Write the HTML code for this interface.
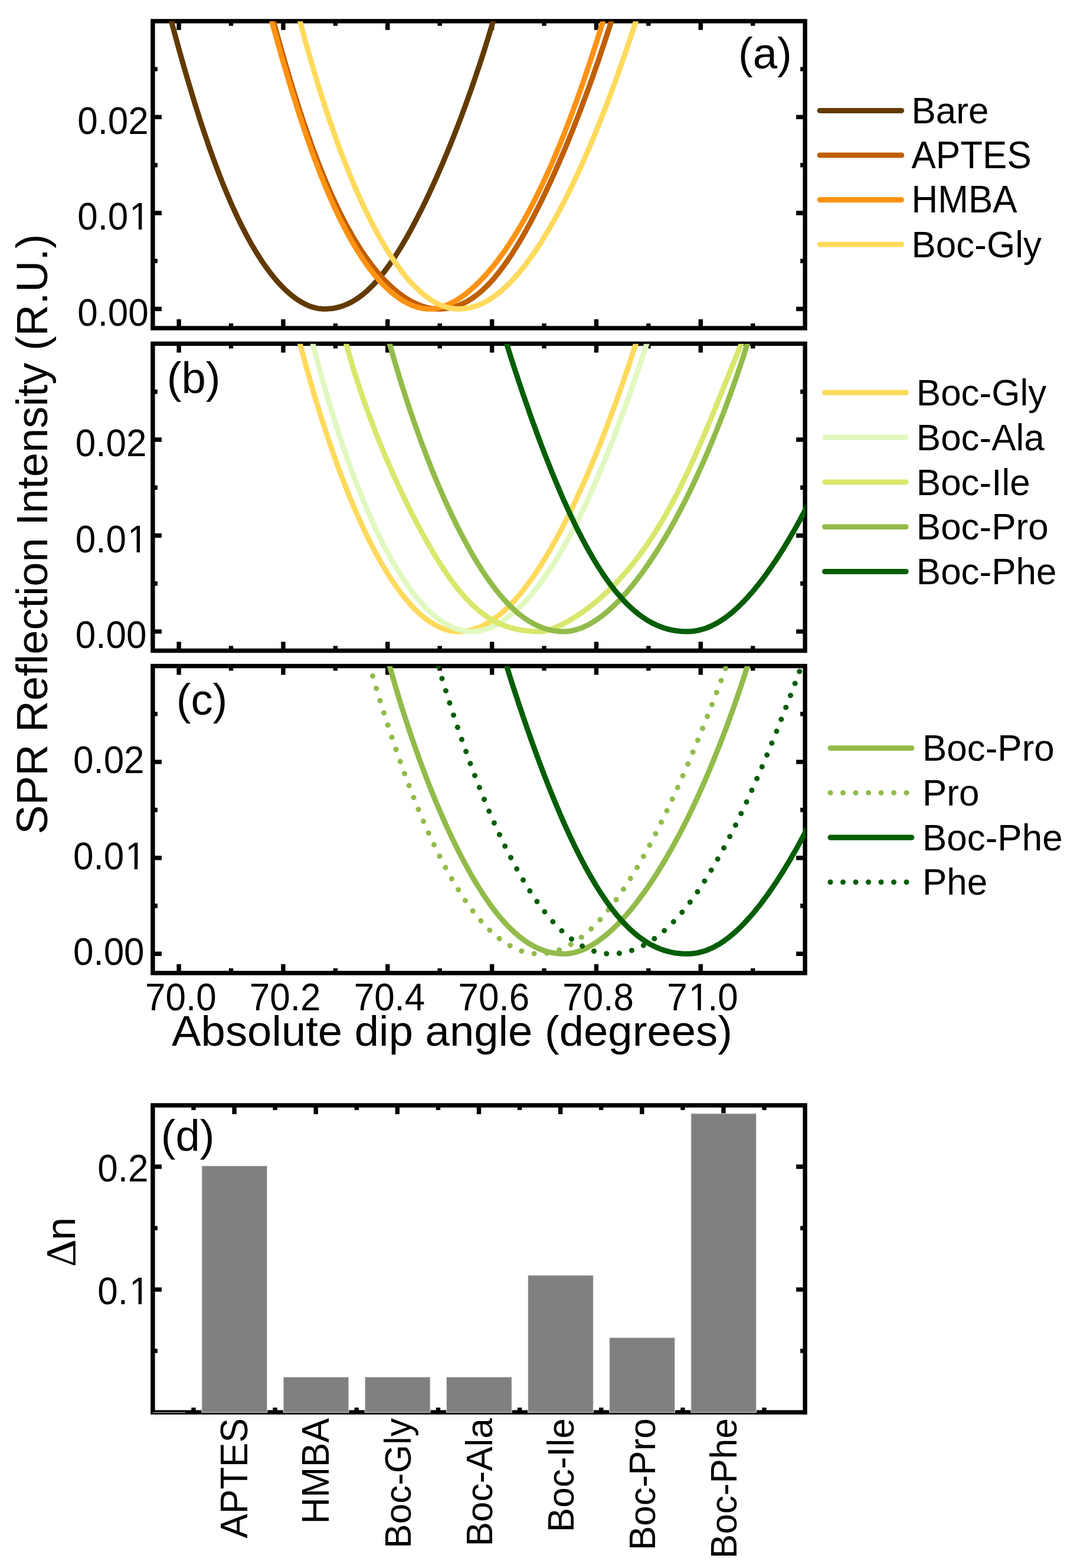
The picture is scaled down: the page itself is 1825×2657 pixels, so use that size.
<!DOCTYPE html>
<html lang="en"><head><meta charset="utf-8"><title>SPR reflection intensity and refractive index change</title>
<style>html,body{margin:0;padding:0;background:#fff}body{width:1825px;height:2657px;overflow:hidden}svg{display:block}text{font-family:'Liberation Sans', sans-serif;fill:#000}.t{font-size:62.0px}.l{font-size:74.3px}.f{fill:none;stroke:#000;stroke-width:7.4}.k{stroke:#000;stroke-width:7.4;fill:none}.c{fill:none;stroke-width:9.05;stroke-linejoin:round;stroke-linecap:butt}.d{fill:none;stroke-width:9.05;stroke-linecap:round;stroke-linejoin:round}.g{stroke-width:9.05;stroke-linecap:round;fill:none}</style></head><body>
<svg width="1825" height="2657" viewBox="0 0 1825 2657" role="img" aria-label="SPR reflection curves (a-c) and refractive index change bar chart (d)">
<rect width="1825" height="2657" fill="#fff"/>
<defs>
<clipPath id="cpa"><rect x="258.90" y="36.15" width="1105.95" height="519.90"/></clipPath>
<clipPath id="cpb"><rect x="258.90" y="582.70" width="1105.95" height="519.90"/></clipPath>
<clipPath id="cpc"><rect x="258.90" y="1128.90" width="1105.95" height="519.90"/></clipPath>
<clipPath id="cpd"><rect x="258.90" y="1873.00" width="1105.95" height="521.10"/></clipPath>
</defs>
<g id="panel-a">
<rect class="f" x="258.90" y="35.85" width="1105.25" height="520.20"/>
<path class="k" d="M303.11 35.85v15.0M303.11 556.05v-15.0M391.53 35.85v8.0M391.53 556.05v-8.0M479.95 35.85v15.0M479.95 556.05v-15.0M568.37 35.85v8.0M568.37 556.05v-8.0M656.79 35.85v15.0M656.79 556.05v-15.0M745.21 35.85v8.0M745.21 556.05v-8.0M833.63 35.85v15.0M833.63 556.05v-15.0M922.05 35.85v8.0M922.05 556.05v-8.0M1010.47 35.85v15.0M1010.47 556.05v-15.0M1098.89 35.85v8.0M1098.89 556.05v-8.0M1187.31 35.85v15.0M1187.31 556.05v-15.0M1275.73 35.85v8.0M1275.73 556.05v-8.0M258.90 523.54h15.0M1364.15 523.54h-15.0M258.90 442.26h8.0M1364.15 442.26h-8.0M258.90 360.98h15.0M1364.15 360.98h-15.0M258.90 279.69h8.0M1364.15 279.69h-8.0M258.90 198.41h15.0M1364.15 198.41h-15.0M258.90 117.13h8.0M1364.15 117.13h-8.0"/>
<text class="t" transform="translate(251.80 551.74) scale(1 1.05)" text-anchor="end">0.00</text>
<g transform="translate(253.80 389.18) scale(1 1.05)"><text class="t" text-anchor="end">0.0<tspan dx="2.0">1</tspan></text><rect x="-30.96" y="-5.83" width="12.07" height="7.23" fill="#fff"/><rect x="-13.41" y="-5.83" width="11.58" height="7.23" fill="#fff"/></g>
<text class="t" transform="translate(251.80 226.61) scale(1 1.05)" text-anchor="end">0.02</text>
<g clip-path="url(#cpa)">
<path class="c" stroke="#623a00" d="M275.4 -21.0 L277.6 -12.7 L279.7 -4.4 L281.9 3.9 L284.0 12.1 L286.2 20.2 L288.3 28.2 L290.4 36.2 L292.5 44.2 L294.7 52.0 L296.8 59.8 L298.9 67.5 L301.0 75.2 L303.1 82.8 L305.2 90.3 L307.3 97.8 L309.4 105.2 L311.5 112.5 L313.6 119.8 L315.7 127.0 L317.8 134.2 L319.9 141.3 L322.0 148.3 L324.1 155.2 L326.1 162.1 L328.2 168.9 L330.3 175.7 L332.4 182.4 L334.5 189.0 L336.6 195.5 L338.6 202.0 L340.7 208.5 L342.8 214.8 L344.9 221.1 L347.0 227.4 L349.1 233.5 L351.2 239.6 L353.3 245.7 L355.3 251.7 L357.4 257.6 L359.5 263.4 L361.6 269.2 L363.7 274.9 L365.8 280.6 L367.9 286.1 L370.0 291.7 L372.1 297.1 L374.2 302.5 L376.3 307.8 L378.4 313.1 L380.5 318.3 L382.7 323.4 L384.8 328.5 L386.9 333.5 L389.0 338.4 L391.1 343.3 L393.2 348.1 L395.4 352.9 L397.5 357.5 L399.6 362.1 L401.8 366.7 L403.9 371.2 L406.0 375.6 L408.2 379.9 L410.3 384.2 L412.5 388.4 L414.6 392.6 L416.7 396.7 L418.9 400.7 L421.0 404.7 L423.2 408.6 L425.3 412.4 L427.5 416.2 L429.7 419.9 L431.8 423.5 L434.0 427.1 L436.1 430.6 L438.3 434.0 L440.5 437.4 L442.6 440.7 L444.8 444.0 L447.0 447.2 L449.1 450.3 L451.3 453.3 L453.5 456.3 L455.6 459.2 L457.8 462.1 L460.0 464.9 L462.2 467.6 L464.3 470.3 L466.5 472.9 L468.7 475.4 L470.8 477.9 L473.0 480.3 L475.2 482.6 L477.3 484.9 L479.5 487.1 L481.7 489.2 L483.8 491.3 L486.0 493.3 L488.1 495.3 L490.3 497.2 L492.4 499.0 L494.6 500.7 L496.7 502.4 L498.9 504.0 L501.0 505.6 L503.1 507.1 L505.2 508.5 L507.4 509.9 L509.5 511.2 L511.6 512.4 L513.7 513.6 L515.8 514.7 L517.9 515.7 L520.0 516.7 L522.1 517.6 L524.2 518.5 L526.2 519.2 L528.3 520.0 L530.3 520.6 L532.4 521.2 L534.4 521.7 L536.5 522.2 L538.5 522.6 L540.5 522.9 L542.5 523.1 L544.5 523.3 L546.5 523.5 L548.4 523.5 L550.7 523.5 L553.3 523.5 L555.9 523.3 L558.4 523.1 L561.0 522.9 L563.5 522.6 L566.0 522.2 L568.4 521.7 L570.9 521.2 L573.3 520.6 L575.7 520.0 L578.1 519.2 L580.5 518.5 L582.8 517.6 L585.2 516.7 L587.5 515.7 L589.9 514.7 L592.2 513.6 L594.5 512.4 L596.8 511.2 L599.0 509.9 L601.3 508.5 L603.6 507.1 L605.8 505.6 L608.1 504.0 L610.3 502.4 L612.5 500.7 L614.8 499.0 L617.0 497.2 L619.2 495.3 L621.4 493.3 L623.6 491.3 L625.8 489.2 L628.0 487.1 L630.2 484.9 L632.4 482.6 L634.6 480.3 L636.8 477.9 L639.0 475.4 L641.2 472.9 L643.3 470.3 L645.5 467.6 L647.7 464.9 L649.9 462.1 L652.1 459.2 L654.3 456.3 L656.5 453.3 L658.7 450.3 L660.9 447.2 L663.1 444.0 L665.3 440.7 L667.6 437.4 L669.8 434.0 L672.0 430.6 L674.2 427.1 L676.4 423.5 L678.7 419.9 L680.9 416.2 L683.2 412.4 L685.4 408.6 L687.7 404.7 L689.9 400.7 L692.2 396.7 L694.5 392.6 L696.8 388.4 L699.0 384.2 L701.3 379.9 L703.6 375.6 L705.9 371.2 L708.2 366.7 L710.5 362.1 L712.9 357.5 L715.2 352.9 L717.5 348.1 L719.9 343.3 L722.2 338.4 L724.6 333.5 L726.9 328.5 L729.3 323.4 L731.6 318.3 L734.0 313.1 L736.4 307.8 L738.8 302.5 L741.2 297.1 L743.6 291.7 L746.0 286.1 L748.4 280.6 L750.8 274.9 L753.2 269.2 L755.6 263.4 L758.0 257.6 L760.5 251.7 L762.9 245.7 L765.3 239.6 L767.8 233.5 L770.2 227.4 L772.6 221.1 L775.1 214.8 L777.5 208.5 L780.0 202.0 L782.4 195.5 L784.8 189.0 L787.3 182.4 L789.7 175.7 L792.2 168.9 L794.6 162.1 L797.1 155.2 L799.5 148.3 L801.9 141.3 L804.4 134.2 L806.8 127.0 L809.2 119.8 L811.7 112.5 L814.1 105.2 L816.5 97.8 L818.9 90.3 L821.3 82.8 L823.7 75.2 L826.1 67.5 L828.5 59.8 L830.8 52.0 L833.2 44.2 L835.6 36.2 L837.9 28.2 L840.2 20.2 L842.5 12.1 L844.8 3.9 L847.1 -4.4 L849.4 -12.7 L851.7 -21.0"/>
<path class="c" stroke="#bf5f00" d="M448.3 -21.0 L450.5 -12.7 L452.6 -4.4 L454.8 3.9 L457.0 12.1 L459.2 20.2 L461.3 28.2 L463.5 36.2 L465.6 44.2 L467.8 52.0 L469.9 59.8 L472.1 67.5 L474.2 75.2 L476.4 82.8 L478.5 90.3 L480.7 97.8 L482.8 105.2 L484.9 112.5 L487.1 119.8 L489.2 127.0 L491.3 134.2 L493.5 141.3 L495.6 148.3 L497.8 155.2 L499.9 162.1 L502.0 168.9 L504.2 175.7 L506.3 182.4 L508.5 189.0 L510.6 195.5 L512.8 202.0 L514.9 208.5 L517.1 214.8 L519.3 221.1 L521.4 227.4 L523.6 233.5 L525.8 239.6 L527.9 245.7 L530.1 251.7 L532.3 257.6 L534.5 263.4 L536.7 269.2 L538.9 274.9 L541.1 280.6 L543.3 286.1 L545.5 291.7 L547.7 297.1 L549.9 302.5 L552.1 307.8 L554.4 313.1 L556.6 318.3 L558.8 323.4 L561.1 328.5 L563.3 333.5 L565.6 338.4 L567.9 343.3 L570.1 348.1 L572.4 352.9 L574.7 357.5 L576.9 362.1 L579.2 366.7 L581.5 371.2 L583.8 375.6 L586.1 379.9 L588.4 384.2 L590.7 388.4 L593.1 392.6 L595.4 396.7 L597.7 400.7 L600.0 404.7 L602.4 408.6 L604.7 412.4 L607.1 416.2 L609.4 419.9 L611.8 423.5 L614.1 427.1 L616.5 430.6 L618.8 434.0 L621.2 437.4 L623.6 440.7 L626.0 444.0 L628.4 447.2 L630.7 450.3 L633.1 453.3 L635.5 456.3 L637.9 459.2 L640.3 462.1 L642.7 464.9 L645.1 467.6 L647.5 470.3 L649.9 472.9 L652.3 475.4 L654.7 477.9 L657.1 480.3 L659.5 482.6 L662.0 484.9 L664.4 487.1 L666.8 489.2 L669.2 491.3 L671.6 493.3 L674.0 495.3 L676.4 497.2 L678.8 499.0 L681.2 500.7 L683.6 502.4 L686.0 504.0 L688.4 505.6 L690.8 507.1 L693.2 508.5 L695.6 509.9 L698.0 511.2 L700.4 512.4 L702.7 513.6 L705.1 514.7 L707.5 515.7 L709.8 516.7 L712.2 517.6 L714.5 518.5 L716.9 519.2 L719.2 520.0 L721.5 520.6 L723.8 521.2 L726.1 521.7 L728.4 522.2 L730.7 522.6 L733.0 522.9 L735.2 523.1 L737.5 523.3 L739.7 523.5 L742.0 523.5 L744.4 523.5 L747.0 523.5 L749.6 523.3 L752.1 523.1 L754.6 522.9 L757.2 522.6 L759.7 522.2 L762.1 521.7 L764.6 521.2 L767.0 520.6 L769.5 520.0 L771.9 519.2 L774.3 518.5 L776.7 517.6 L779.1 516.7 L781.4 515.7 L783.8 514.7 L786.1 513.6 L788.4 512.4 L790.8 511.2 L793.1 509.9 L795.4 508.5 L797.7 507.1 L800.0 505.6 L802.2 504.0 L804.5 502.4 L806.8 500.7 L809.0 499.0 L811.3 497.2 L813.5 495.3 L815.8 493.3 L818.0 491.3 L820.3 489.2 L822.5 487.1 L824.8 484.9 L827.0 482.6 L829.2 480.3 L831.5 477.9 L833.7 475.4 L835.9 472.9 L838.1 470.3 L840.4 467.6 L842.6 464.9 L844.8 462.1 L847.1 459.2 L849.3 456.3 L851.6 453.3 L853.8 450.3 L856.0 447.2 L858.3 444.0 L860.5 440.7 L862.8 437.4 L865.1 434.0 L867.3 430.6 L869.6 427.1 L871.8 423.5 L874.1 419.9 L876.4 416.2 L878.7 412.4 L881.0 408.6 L883.3 404.7 L885.6 400.7 L887.9 396.7 L890.2 392.6 L892.5 388.4 L894.8 384.2 L897.2 379.9 L899.5 375.6 L901.8 371.2 L904.2 366.7 L906.5 362.1 L908.9 357.5 L911.3 352.9 L913.6 348.1 L916.0 343.3 L918.4 338.4 L920.8 333.5 L923.2 328.5 L925.6 323.4 L928.0 318.3 L930.4 313.1 L932.9 307.8 L935.3 302.5 L937.7 297.1 L940.2 291.7 L942.6 286.1 L945.1 280.6 L947.6 274.9 L950.0 269.2 L952.5 263.4 L955.0 257.6 L957.5 251.7 L960.0 245.7 L962.5 239.6 L965.0 233.5 L967.5 227.4 L970.0 221.1 L972.5 214.8 L975.0 208.5 L977.5 202.0 L980.0 195.5 L982.6 189.0 L985.1 182.4 L987.6 175.7 L990.2 168.9 L992.7 162.1 L995.2 155.2 L997.8 148.3 L1000.3 141.3 L1002.9 134.2 L1005.4 127.0 L1007.9 119.8 L1010.5 112.5 L1013.0 105.2 L1015.6 97.8 L1018.1 90.3 L1020.6 82.8 L1023.2 75.2 L1025.7 67.5 L1028.2 59.8 L1030.7 52.0 L1033.3 44.2 L1035.8 36.2 L1038.3 28.2 L1040.8 20.2 L1043.3 12.1 L1045.8 3.9 L1048.3 -4.4 L1050.7 -12.7 L1053.2 -21.0"/>
<path class="c" stroke="#ff9212" d="M445.1 -21.0 L447.3 -12.7 L449.6 -4.4 L451.8 3.9 L454.0 12.1 L456.2 20.2 L458.4 28.2 L460.6 36.2 L462.7 44.2 L464.9 52.0 L467.1 59.8 L469.3 67.5 L471.4 75.2 L473.6 82.8 L475.7 90.3 L477.9 97.8 L480.0 105.2 L482.1 112.5 L484.3 119.8 L486.4 127.0 L488.5 134.2 L490.7 141.3 L492.8 148.3 L494.9 155.2 L497.0 162.1 L499.2 168.9 L501.3 175.7 L503.4 182.4 L505.5 189.0 L507.7 195.5 L509.8 202.0 L511.9 208.5 L514.0 214.8 L516.1 221.1 L518.3 227.4 L520.4 233.5 L522.5 239.6 L524.6 245.7 L526.7 251.7 L528.9 257.6 L531.0 263.4 L533.1 269.2 L535.3 274.9 L537.4 280.6 L539.5 286.1 L541.7 291.7 L543.8 297.1 L546.0 302.5 L548.1 307.8 L550.2 313.1 L552.4 318.3 L554.6 323.4 L556.7 328.5 L558.9 333.5 L561.0 338.4 L563.2 343.3 L565.4 348.1 L567.5 352.9 L569.7 357.5 L571.9 362.1 L574.1 366.7 L576.2 371.2 L578.4 375.6 L580.6 379.9 L582.8 384.2 L585.0 388.4 L587.2 392.6 L589.4 396.7 L591.6 400.7 L593.8 404.7 L596.0 408.6 L598.2 412.4 L600.5 416.2 L602.7 419.9 L604.9 423.5 L607.1 427.1 L609.4 430.6 L611.6 434.0 L613.8 437.4 L616.0 440.7 L618.3 444.0 L620.5 447.2 L622.8 450.3 L625.0 453.3 L627.2 456.3 L629.5 459.2 L631.7 462.1 L634.0 464.9 L636.2 467.6 L638.5 470.3 L640.7 472.9 L643.0 475.4 L645.2 477.9 L647.5 480.3 L649.7 482.6 L652.0 484.9 L654.2 487.1 L656.5 489.2 L658.7 491.3 L661.0 493.3 L663.2 495.3 L665.5 497.2 L667.7 499.0 L670.0 500.7 L672.2 502.4 L674.4 504.0 L676.7 505.6 L678.9 507.1 L681.1 508.5 L683.3 509.9 L685.6 511.2 L687.8 512.4 L690.0 513.6 L692.2 514.7 L694.4 515.7 L696.6 516.7 L698.8 517.6 L700.9 518.5 L703.1 519.2 L705.3 520.0 L707.4 520.6 L709.6 521.2 L711.7 521.7 L713.9 522.2 L716.0 522.6 L718.1 522.9 L720.2 523.1 L722.3 523.3 L724.4 523.5 L726.5 523.5 L728.5 523.5 L730.5 523.5 L732.5 523.3 L734.5 523.1 L736.5 522.9 L738.6 522.6 L740.7 522.2 L742.7 521.7 L744.9 521.2 L747.0 520.6 L749.1 520.0 L751.3 519.2 L753.5 518.5 L755.6 517.6 L757.9 516.7 L760.1 515.7 L762.3 514.7 L764.5 513.6 L766.8 512.4 L769.1 511.2 L771.4 509.9 L773.7 508.5 L776.0 507.1 L778.3 505.6 L780.6 504.0 L782.9 502.4 L785.3 500.7 L787.7 499.0 L790.0 497.2 L792.4 495.3 L794.8 493.3 L797.2 491.3 L799.6 489.2 L802.0 487.1 L804.4 484.9 L806.8 482.6 L809.2 480.3 L811.7 477.9 L814.1 475.4 L816.6 472.9 L819.0 470.3 L821.5 467.6 L823.9 464.9 L826.4 462.1 L828.8 459.2 L831.3 456.3 L833.8 453.3 L836.3 450.3 L838.7 447.2 L841.2 444.0 L843.7 440.7 L846.2 437.4 L848.7 434.0 L851.2 430.6 L853.7 427.1 L856.2 423.5 L858.7 419.9 L861.2 416.2 L863.7 412.4 L866.2 408.6 L868.7 404.7 L871.2 400.7 L873.7 396.7 L876.2 392.6 L878.7 388.4 L881.2 384.2 L883.7 379.9 L886.2 375.6 L888.7 371.2 L891.2 366.7 L893.7 362.1 L896.2 357.5 L898.7 352.9 L901.2 348.1 L903.7 343.3 L906.2 338.4 L908.6 333.5 L911.1 328.5 L913.6 323.4 L916.1 318.3 L918.6 313.1 L921.1 307.8 L923.6 302.5 L926.0 297.1 L928.5 291.7 L931.0 286.1 L933.5 280.6 L935.9 274.9 L938.4 269.2 L940.9 263.4 L943.3 257.6 L945.8 251.7 L948.3 245.7 L950.7 239.6 L953.2 233.5 L955.7 227.4 L958.1 221.1 L960.6 214.8 L963.0 208.5 L965.5 202.0 L967.9 195.5 L970.4 189.0 L972.8 182.4 L975.3 175.7 L977.7 168.9 L980.2 162.1 L982.6 155.2 L985.0 148.3 L987.5 141.3 L989.9 134.2 L992.4 127.0 L994.8 119.8 L997.2 112.5 L999.7 105.2 L1002.1 97.8 L1004.6 90.3 L1007.0 82.8 L1009.5 75.2 L1011.9 67.5 L1014.3 59.8 L1016.8 52.0 L1019.2 44.2 L1021.7 36.2 L1024.1 28.2 L1026.6 20.2 L1029.0 12.1 L1031.5 3.9 L1033.9 -4.4 L1036.4 -12.7 L1038.9 -21.0"/>
<path class="c" stroke="#ffda5c" d="M494.1 -21.0 L496.1 -12.7 L498.2 -4.4 L500.2 3.9 L502.3 12.1 L504.4 20.2 L506.4 28.2 L508.5 36.2 L510.6 44.2 L512.7 52.0 L514.8 59.8 L516.9 67.5 L519.0 75.2 L521.2 82.8 L523.3 90.3 L525.4 97.8 L527.6 105.2 L529.7 112.5 L531.8 119.8 L534.0 127.0 L536.1 134.2 L538.3 141.3 L540.5 148.3 L542.6 155.2 L544.8 162.1 L547.0 168.9 L549.1 175.7 L551.3 182.4 L553.5 189.0 L555.7 195.5 L557.9 202.0 L560.1 208.5 L562.3 214.8 L564.5 221.1 L566.7 227.4 L568.9 233.5 L571.1 239.6 L573.3 245.7 L575.5 251.7 L577.7 257.6 L579.9 263.4 L582.1 269.2 L584.4 274.9 L586.6 280.6 L588.8 286.1 L591.0 291.7 L593.2 297.1 L595.5 302.5 L597.7 307.8 L599.9 313.1 L602.2 318.3 L604.4 323.4 L606.6 328.5 L608.8 333.5 L611.1 338.4 L613.3 343.3 L615.5 348.1 L617.8 352.9 L620.0 357.5 L622.2 362.1 L624.5 366.7 L626.7 371.2 L629.0 375.6 L631.2 379.9 L633.4 384.2 L635.7 388.4 L637.9 392.6 L640.1 396.7 L642.4 400.7 L644.6 404.7 L646.8 408.6 L649.1 412.4 L651.3 416.2 L653.5 419.9 L655.7 423.5 L658.0 427.1 L660.2 430.6 L662.4 434.0 L664.7 437.4 L666.9 440.7 L669.1 444.0 L671.3 447.2 L673.6 450.3 L675.8 453.3 L678.0 456.3 L680.2 459.2 L682.4 462.1 L684.6 464.9 L686.9 467.6 L689.1 470.3 L691.3 472.9 L693.5 475.4 L695.7 477.9 L697.9 480.3 L700.1 482.6 L702.3 484.9 L704.5 487.1 L706.7 489.2 L708.9 491.3 L711.1 493.3 L713.3 495.3 L715.5 497.2 L717.7 499.0 L719.9 500.7 L722.0 502.4 L724.2 504.0 L726.4 505.6 L728.6 507.1 L730.8 508.5 L732.9 509.9 L735.1 511.2 L737.3 512.4 L739.5 513.6 L741.6 514.7 L743.8 515.7 L746.0 516.7 L748.1 517.6 L750.3 518.5 L752.4 519.2 L754.6 520.0 L756.7 520.6 L758.9 521.2 L761.0 521.7 L763.2 522.2 L765.3 522.6 L767.5 522.9 L769.6 523.1 L771.7 523.3 L773.9 523.5 L776.0 523.5 L778.3 523.5 L780.6 523.5 L783.0 523.3 L785.4 523.1 L787.7 522.9 L790.1 522.6 L792.5 522.2 L794.8 521.7 L797.2 521.2 L799.5 520.6 L801.9 520.0 L804.2 519.2 L806.6 518.5 L808.9 517.6 L811.3 516.7 L813.6 515.7 L816.0 514.7 L818.3 513.6 L820.6 512.4 L823.0 511.2 L825.3 509.9 L827.7 508.5 L830.0 507.1 L832.3 505.6 L834.7 504.0 L837.0 502.4 L839.4 500.7 L841.7 499.0 L844.1 497.2 L846.4 495.3 L848.8 493.3 L851.1 491.3 L853.5 489.2 L855.8 487.1 L858.2 484.9 L860.5 482.6 L862.9 480.3 L865.3 477.9 L867.6 475.4 L870.0 472.9 L872.4 470.3 L874.7 467.6 L877.1 464.9 L879.5 462.1 L881.9 459.2 L884.3 456.3 L886.6 453.3 L889.0 450.3 L891.4 447.2 L893.8 444.0 L896.2 440.7 L898.6 437.4 L901.0 434.0 L903.5 430.6 L905.9 427.1 L908.3 423.5 L910.7 419.9 L913.1 416.2 L915.6 412.4 L918.0 408.6 L920.4 404.7 L922.9 400.7 L925.3 396.7 L927.8 392.6 L930.2 388.4 L932.7 384.2 L935.1 379.9 L937.6 375.6 L940.1 371.2 L942.5 366.7 L945.0 362.1 L947.5 357.5 L950.0 352.9 L952.5 348.1 L955.0 343.3 L957.5 338.4 L960.0 333.5 L962.5 328.5 L965.0 323.4 L967.5 318.3 L970.0 313.1 L972.5 307.8 L975.0 302.5 L977.5 297.1 L980.1 291.7 L982.6 286.1 L985.1 280.6 L987.7 274.9 L990.2 269.2 L992.7 263.4 L995.3 257.6 L997.8 251.7 L1000.4 245.7 L1002.9 239.6 L1005.5 233.5 L1008.0 227.4 L1010.6 221.1 L1013.2 214.8 L1015.7 208.5 L1018.3 202.0 L1020.9 195.5 L1023.4 189.0 L1026.0 182.4 L1028.6 175.7 L1031.1 168.9 L1033.7 162.1 L1036.3 155.2 L1038.8 148.3 L1041.4 141.3 L1044.0 134.2 L1046.6 127.0 L1049.1 119.8 L1051.7 112.5 L1054.3 105.2 L1056.9 97.8 L1059.4 90.3 L1062.0 82.8 L1064.6 75.2 L1067.2 67.5 L1069.7 59.8 L1072.3 52.0 L1074.9 44.2 L1077.4 36.2 L1080.0 28.2 L1082.5 20.2 L1085.1 12.1 L1087.7 3.9 L1090.2 -4.4 L1092.7 -12.7 L1095.3 -21.0"/>
</g>
<text class="l" transform="translate(1251.00 116.30)" text-anchor="start">(a)</text>
</g>
<g id="panel-b">
<rect class="f" x="258.90" y="582.40" width="1105.25" height="520.20"/>
<path class="k" d="M303.11 582.40v15.0M303.11 1102.60v-15.0M391.53 582.40v8.0M391.53 1102.60v-8.0M479.95 582.40v15.0M479.95 1102.60v-15.0M568.37 582.40v8.0M568.37 1102.60v-8.0M656.79 582.40v15.0M656.79 1102.60v-15.0M745.21 582.40v8.0M745.21 1102.60v-8.0M833.63 582.40v15.0M833.63 1102.60v-15.0M922.05 582.40v8.0M922.05 1102.60v-8.0M1010.47 582.40v15.0M1010.47 1102.60v-15.0M1098.89 582.40v8.0M1098.89 1102.60v-8.0M1187.31 582.40v15.0M1187.31 1102.60v-15.0M1275.73 582.40v8.0M1275.73 1102.60v-8.0M258.90 1070.09h15.0M1364.15 1070.09h-15.0M258.90 988.81h8.0M1364.15 988.81h-8.0M258.90 907.52h15.0M1364.15 907.52h-15.0M258.90 826.24h8.0M1364.15 826.24h-8.0M258.90 744.96h15.0M1364.15 744.96h-15.0M258.90 663.68h8.0M1364.15 663.68h-8.0"/>
<text class="t" transform="translate(248.40 1098.49) scale(1 1.05)" text-anchor="end">0.00</text>
<g transform="translate(250.40 935.92) scale(1 1.05)"><text class="t" text-anchor="end">0.0<tspan dx="2.0">1</tspan></text><rect x="-30.96" y="-5.83" width="12.07" height="7.23" fill="#fff"/><rect x="-13.41" y="-5.83" width="11.58" height="7.23" fill="#fff"/></g>
<text class="t" transform="translate(248.40 773.36) scale(1 1.05)" text-anchor="end">0.02</text>
<g clip-path="url(#cpb)">
<path class="c" stroke="#ffda5c" d="M494.1 525.5 L496.1 533.9 L498.2 542.2 L500.2 550.4 L502.3 558.6 L504.4 566.7 L506.4 574.8 L508.5 582.8 L510.6 590.7 L512.7 598.6 L514.8 606.4 L516.9 614.1 L519.0 621.8 L521.2 629.4 L523.3 636.9 L525.4 644.4 L527.6 651.8 L529.7 659.1 L531.8 666.4 L534.0 673.6 L536.1 680.7 L538.3 687.8 L540.5 694.8 L542.6 701.8 L544.8 708.7 L547.0 715.5 L549.1 722.2 L551.3 728.9 L553.5 735.5 L555.7 742.1 L557.9 748.6 L560.1 755.0 L562.3 761.4 L564.5 767.7 L566.7 773.9 L568.9 780.1 L571.1 786.2 L573.3 792.2 L575.5 798.2 L577.7 804.1 L579.9 810.0 L582.1 815.7 L584.4 821.5 L586.6 827.1 L588.8 832.7 L591.0 838.2 L593.2 843.7 L595.5 849.1 L597.7 854.4 L599.9 859.7 L602.2 864.8 L604.4 870.0 L606.6 875.0 L608.8 880.0 L611.1 885.0 L613.3 889.9 L615.5 894.7 L617.8 899.4 L620.0 904.1 L622.2 908.7 L624.5 913.2 L626.7 917.7 L629.0 922.1 L631.2 926.5 L633.4 930.8 L635.7 935.0 L637.9 939.1 L640.1 943.2 L642.4 947.3 L644.6 951.2 L646.8 955.1 L649.1 959.0 L651.3 962.7 L653.5 966.4 L655.7 970.1 L658.0 973.6 L660.2 977.1 L662.4 980.6 L664.7 984.0 L666.9 987.3 L669.1 990.5 L671.3 993.7 L673.6 996.8 L675.8 999.9 L678.0 1002.9 L680.2 1005.8 L682.4 1008.6 L684.6 1011.4 L686.9 1014.2 L689.1 1016.8 L691.3 1019.4 L693.5 1022.0 L695.7 1024.4 L697.9 1026.8 L700.1 1029.2 L702.3 1031.4 L704.5 1033.6 L706.7 1035.8 L708.9 1037.9 L711.1 1039.9 L713.3 1041.8 L715.5 1043.7 L717.7 1045.5 L719.9 1047.3 L722.0 1049.0 L724.2 1050.6 L726.4 1052.2 L728.6 1053.6 L730.8 1055.1 L732.9 1056.4 L735.1 1057.7 L737.3 1059.0 L739.5 1060.1 L741.6 1061.2 L743.8 1062.3 L746.0 1063.3 L748.1 1064.2 L750.3 1065.0 L752.4 1065.8 L754.6 1066.5 L756.7 1067.2 L758.9 1067.7 L761.0 1068.3 L763.2 1068.7 L765.3 1069.1 L767.5 1069.4 L769.6 1069.7 L771.7 1069.9 L773.9 1070.0 L776.0 1070.1 L778.3 1070.1 L780.6 1070.0 L783.0 1069.9 L785.4 1069.7 L787.7 1069.4 L790.1 1069.1 L792.5 1068.7 L794.8 1068.3 L797.2 1067.7 L799.5 1067.2 L801.9 1066.5 L804.2 1065.8 L806.6 1065.0 L808.9 1064.2 L811.3 1063.3 L813.6 1062.3 L816.0 1061.2 L818.3 1060.1 L820.6 1059.0 L823.0 1057.7 L825.3 1056.4 L827.7 1055.1 L830.0 1053.6 L832.3 1052.2 L834.7 1050.6 L837.0 1049.0 L839.4 1047.3 L841.7 1045.5 L844.1 1043.7 L846.4 1041.8 L848.8 1039.9 L851.1 1037.9 L853.5 1035.8 L855.8 1033.6 L858.2 1031.4 L860.5 1029.2 L862.9 1026.8 L865.3 1024.4 L867.6 1022.0 L870.0 1019.4 L872.4 1016.8 L874.7 1014.2 L877.1 1011.4 L879.5 1008.6 L881.9 1005.8 L884.3 1002.9 L886.6 999.9 L889.0 996.8 L891.4 993.7 L893.8 990.5 L896.2 987.3 L898.6 984.0 L901.0 980.6 L903.5 977.1 L905.9 973.6 L908.3 970.1 L910.7 966.4 L913.1 962.7 L915.6 959.0 L918.0 955.1 L920.4 951.2 L922.9 947.3 L925.3 943.2 L927.8 939.1 L930.2 935.0 L932.7 930.8 L935.1 926.5 L937.6 922.1 L940.1 917.7 L942.5 913.2 L945.0 908.7 L947.5 904.1 L950.0 899.4 L952.5 894.7 L955.0 889.9 L957.5 885.0 L960.0 880.0 L962.5 875.0 L965.0 870.0 L967.5 864.8 L970.0 859.7 L972.5 854.4 L975.0 849.1 L977.5 843.7 L980.1 838.2 L982.6 832.7 L985.1 827.1 L987.7 821.5 L990.2 815.7 L992.7 810.0 L995.3 804.1 L997.8 798.2 L1000.4 792.2 L1002.9 786.2 L1005.5 780.1 L1008.0 773.9 L1010.6 767.7 L1013.2 761.4 L1015.7 755.0 L1018.3 748.6 L1020.9 742.1 L1023.4 735.5 L1026.0 728.9 L1028.6 722.2 L1031.1 715.5 L1033.7 708.7 L1036.3 701.8 L1038.8 694.8 L1041.4 687.8 L1044.0 680.7 L1046.6 673.6 L1049.1 666.4 L1051.7 659.1 L1054.3 651.8 L1056.9 644.4 L1059.4 636.9 L1062.0 629.4 L1064.6 621.8 L1067.2 614.1 L1069.7 606.4 L1072.3 598.6 L1074.9 590.7 L1077.4 582.8 L1080.0 574.8 L1082.5 566.7 L1085.1 558.6 L1087.7 550.4 L1090.2 542.2 L1092.7 533.9 L1095.3 525.5"/>
<path class="c" stroke="#e1f8c0" d="M516.2 525.5 L518.2 533.9 L520.2 542.2 L522.2 550.4 L524.2 558.6 L526.2 566.7 L528.2 574.8 L530.2 582.8 L532.2 590.7 L534.3 598.6 L536.3 606.4 L538.4 614.1 L540.4 621.8 L542.5 629.4 L544.6 636.9 L546.7 644.4 L548.8 651.8 L550.9 659.1 L553.0 666.4 L555.1 673.6 L557.2 680.7 L559.3 687.8 L561.5 694.8 L563.6 701.8 L565.7 708.7 L567.9 715.5 L570.0 722.2 L572.2 728.9 L574.3 735.5 L576.5 742.1 L578.7 748.6 L580.8 755.0 L583.0 761.4 L585.2 767.7 L587.4 773.9 L589.6 780.1 L591.8 786.2 L593.9 792.2 L596.1 798.2 L598.3 804.1 L600.5 810.0 L602.7 815.7 L605.0 821.5 L607.2 827.1 L609.4 832.7 L611.6 838.2 L613.8 843.7 L616.0 849.1 L618.2 854.4 L620.5 859.7 L622.7 864.8 L624.9 870.0 L627.1 875.0 L629.4 880.0 L631.6 885.0 L633.8 889.9 L636.0 894.7 L638.3 899.4 L640.5 904.1 L642.7 908.7 L645.0 913.2 L647.2 917.7 L649.4 922.1 L651.7 926.5 L653.9 930.8 L656.2 935.0 L658.4 939.1 L660.6 943.2 L662.9 947.3 L665.1 951.2 L667.3 955.1 L669.6 959.0 L671.8 962.7 L674.0 966.4 L676.3 970.1 L678.5 973.6 L680.8 977.1 L683.0 980.6 L685.2 984.0 L687.5 987.3 L689.7 990.5 L691.9 993.7 L694.2 996.8 L696.4 999.9 L698.6 1002.9 L700.9 1005.8 L703.1 1008.6 L705.3 1011.4 L707.6 1014.2 L709.8 1016.8 L712.0 1019.4 L714.2 1022.0 L716.5 1024.4 L718.7 1026.8 L720.9 1029.2 L723.2 1031.4 L725.4 1033.6 L727.6 1035.8 L729.9 1037.9 L732.1 1039.9 L734.3 1041.8 L736.5 1043.7 L738.8 1045.5 L741.0 1047.3 L743.2 1049.0 L745.4 1050.6 L747.7 1052.2 L749.9 1053.6 L752.1 1055.1 L754.4 1056.4 L756.6 1057.7 L758.8 1059.0 L761.0 1060.1 L763.3 1061.2 L765.5 1062.3 L767.7 1063.3 L770.0 1064.2 L772.2 1065.0 L774.4 1065.8 L776.7 1066.5 L778.9 1067.2 L781.1 1067.7 L783.4 1068.3 L785.6 1068.7 L787.9 1069.1 L790.1 1069.4 L792.3 1069.7 L794.6 1069.9 L796.8 1070.0 L799.1 1070.1 L801.3 1070.1 L803.3 1070.0 L805.4 1069.9 L807.6 1069.7 L809.7 1069.4 L811.8 1069.1 L814.0 1068.7 L816.1 1068.3 L818.3 1067.7 L820.5 1067.2 L822.7 1066.5 L824.9 1065.8 L827.1 1065.0 L829.3 1064.2 L831.5 1063.3 L833.8 1062.3 L836.0 1061.2 L838.3 1060.1 L840.6 1059.0 L842.8 1057.7 L845.1 1056.4 L847.4 1055.1 L849.7 1053.6 L852.0 1052.2 L854.3 1050.6 L856.6 1049.0 L858.9 1047.3 L861.3 1045.5 L863.6 1043.7 L866.0 1041.8 L868.3 1039.9 L870.7 1037.9 L873.0 1035.8 L875.4 1033.6 L877.7 1031.4 L880.1 1029.2 L882.5 1026.8 L884.9 1024.4 L887.3 1022.0 L889.6 1019.4 L892.0 1016.8 L894.4 1014.2 L896.8 1011.4 L899.2 1008.6 L901.7 1005.8 L904.1 1002.9 L906.5 999.9 L908.9 996.8 L911.3 993.7 L913.8 990.5 L916.2 987.3 L918.6 984.0 L921.0 980.6 L923.5 977.1 L925.9 973.6 L928.4 970.1 L930.8 966.4 L933.2 962.7 L935.7 959.0 L938.1 955.1 L940.6 951.2 L943.0 947.3 L945.5 943.2 L947.9 939.1 L950.4 935.0 L952.8 930.8 L955.3 926.5 L957.8 922.1 L960.2 917.7 L962.7 913.2 L965.2 908.7 L967.6 904.1 L970.1 899.4 L972.6 894.7 L975.0 889.9 L977.5 885.0 L980.0 880.0 L982.5 875.0 L984.9 870.0 L987.4 864.8 L989.9 859.7 L992.4 854.4 L994.8 849.1 L997.3 843.7 L999.8 838.2 L1002.3 832.7 L1004.8 827.1 L1007.3 821.5 L1009.8 815.7 L1012.2 810.0 L1014.7 804.1 L1017.2 798.2 L1019.7 792.2 L1022.2 786.2 L1024.7 780.1 L1027.2 773.9 L1029.7 767.7 L1032.2 761.4 L1034.7 755.0 L1037.3 748.6 L1039.8 742.1 L1042.3 735.5 L1044.8 728.9 L1047.3 722.2 L1049.8 715.5 L1052.4 708.7 L1054.9 701.8 L1057.4 694.8 L1060.0 687.8 L1062.5 680.7 L1065.0 673.6 L1067.6 666.4 L1070.1 659.1 L1072.7 651.8 L1075.2 644.4 L1077.8 636.9 L1080.4 629.4 L1082.9 621.8 L1085.5 614.1 L1088.1 606.4 L1090.7 598.6 L1093.3 590.7 L1095.9 582.8 L1098.5 574.8 L1101.1 566.7 L1103.7 558.6 L1106.3 550.4 L1108.9 542.2 L1111.6 533.9 L1114.2 525.5"/>
<path class="c" stroke="#d9e76c" d="M572.5 525.5 L574.4 533.9 L576.3 542.2 L578.3 550.4 L580.3 558.6 L582.4 566.7 L584.5 574.8 L586.7 582.8 L588.8 590.7 L591.1 598.6 L593.3 606.4 L595.6 614.1 L597.9 621.8 L600.2 629.4 L602.6 636.9 L605.0 644.4 L607.4 651.8 L609.8 659.1 L612.3 666.4 L614.8 673.6 L617.3 680.7 L619.8 687.8 L622.3 694.8 L624.8 701.8 L627.4 708.7 L630.0 715.5 L632.5 722.2 L635.1 728.9 L637.7 735.5 L640.3 742.1 L642.9 748.6 L645.5 755.0 L648.1 761.4 L650.8 767.7 L653.4 773.9 L656.0 780.1 L658.7 786.2 L661.3 792.2 L663.9 798.2 L666.5 804.1 L669.2 810.0 L671.8 815.7 L674.4 821.5 L677.0 827.1 L679.7 832.7 L682.3 838.2 L684.9 843.7 L687.5 849.1 L690.1 854.4 L692.7 859.7 L695.3 864.8 L697.9 870.0 L700.4 875.0 L703.0 880.0 L705.6 885.0 L708.1 889.9 L710.7 894.7 L713.2 899.4 L715.8 904.1 L718.3 908.7 L720.8 913.2 L723.3 917.7 L725.8 922.1 L728.3 926.5 L730.8 930.8 L733.3 935.0 L735.8 939.1 L738.3 943.2 L740.8 947.3 L743.2 951.2 L745.7 955.1 L748.2 959.0 L750.6 962.7 L753.1 966.4 L755.5 970.1 L758.0 973.6 L760.4 977.1 L762.9 980.6 L765.3 984.0 L767.7 987.3 L770.2 990.5 L772.6 993.7 L775.1 996.8 L777.5 999.9 L780.0 1002.9 L782.4 1005.8 L784.9 1008.6 L787.4 1011.4 L789.9 1014.2 L792.4 1016.8 L794.8 1019.4 L797.4 1022.0 L799.9 1024.4 L802.4 1026.8 L805.0 1029.2 L807.5 1031.4 L810.1 1033.6 L812.7 1035.8 L815.3 1037.9 L817.9 1039.9 L820.6 1041.8 L823.3 1043.7 L826.0 1045.5 L828.7 1047.3 L831.5 1049.0 L834.3 1050.6 L837.1 1052.2 L839.9 1053.6 L842.8 1055.1 L845.7 1056.4 L848.7 1057.7 L851.7 1059.0 L854.7 1060.1 L857.8 1061.2 L860.9 1062.3 L864.1 1063.3 L867.3 1064.2 L870.6 1065.0 L873.9 1065.8 L877.3 1066.5 L880.7 1067.2 L884.2 1067.7 L887.7 1068.3 L891.3 1068.7 L895.0 1069.1 L898.7 1069.4 L902.6 1069.7 L906.4 1069.9 L910.4 1070.0 L914.4 1070.1 L917.0 1070.1 L918.2 1070.0 L919.5 1069.9 L920.8 1069.7 L922.3 1069.4 L923.8 1069.1 L925.5 1068.7 L927.2 1068.3 L929.0 1067.7 L930.8 1067.2 L932.8 1066.5 L934.8 1065.8 L936.8 1065.0 L939.0 1064.2 L941.2 1063.3 L943.5 1062.3 L945.8 1061.2 L948.2 1060.1 L950.6 1059.0 L953.1 1057.7 L955.6 1056.4 L958.2 1055.1 L960.8 1053.6 L963.5 1052.2 L966.2 1050.6 L968.9 1049.0 L971.7 1047.3 L974.5 1045.5 L977.4 1043.7 L980.2 1041.8 L983.1 1039.9 L986.1 1037.9 L989.0 1035.8 L992.0 1033.6 L995.0 1031.4 L998.0 1029.2 L1001.0 1026.8 L1004.1 1024.4 L1007.1 1022.0 L1010.2 1019.4 L1013.3 1016.8 L1016.4 1014.2 L1019.5 1011.4 L1022.6 1008.6 L1025.7 1005.8 L1028.9 1002.9 L1032.0 999.9 L1035.1 996.8 L1038.2 993.7 L1041.4 990.5 L1044.5 987.3 L1047.6 984.0 L1050.8 980.6 L1053.9 977.1 L1057.0 973.6 L1060.1 970.1 L1063.2 966.4 L1066.3 962.7 L1069.4 959.0 L1072.5 955.1 L1075.6 951.2 L1078.7 947.3 L1081.7 943.2 L1084.8 939.1 L1087.8 935.0 L1090.9 930.8 L1093.9 926.5 L1096.9 922.1 L1099.9 917.7 L1102.9 913.2 L1105.9 908.7 L1108.9 904.1 L1111.8 899.4 L1114.8 894.7 L1117.7 889.9 L1120.6 885.0 L1123.5 880.0 L1126.4 875.0 L1129.3 870.0 L1132.2 864.8 L1135.0 859.7 L1137.9 854.4 L1140.7 849.1 L1143.6 843.7 L1146.4 838.2 L1149.2 832.7 L1152.0 827.1 L1154.8 821.5 L1157.6 815.7 L1160.4 810.0 L1163.2 804.1 L1166.0 798.2 L1168.8 792.2 L1171.5 786.2 L1174.3 780.1 L1177.1 773.9 L1179.9 767.7 L1182.6 761.4 L1185.4 755.0 L1188.2 748.6 L1191.0 742.1 L1193.8 735.5 L1196.6 728.9 L1199.4 722.2 L1202.2 715.5 L1205.0 708.7 L1207.8 701.8 L1210.7 694.8 L1213.5 687.8 L1216.4 680.7 L1219.3 673.6 L1222.2 666.4 L1225.2 659.1 L1228.1 651.8 L1231.1 644.4 L1234.2 636.9 L1237.2 629.4 L1240.3 621.8 L1243.4 614.1 L1246.5 606.4 L1249.7 598.6 L1252.9 590.7 L1256.2 582.8 L1259.5 574.8 L1262.8 566.7 L1266.2 558.6 L1269.7 550.4 L1273.2 542.2 L1276.7 533.9 L1280.3 525.5"/>
<path class="c" stroke="#92bb4a" d="M645.1 525.5 L647.2 533.9 L649.4 542.2 L651.5 550.4 L653.7 558.6 L655.9 566.7 L658.1 574.8 L660.3 582.8 L662.6 590.7 L664.8 598.6 L667.0 606.4 L669.3 614.1 L671.6 621.8 L673.9 629.4 L676.1 636.9 L678.4 644.4 L680.7 651.8 L683.1 659.1 L685.4 666.4 L687.7 673.6 L690.1 680.7 L692.4 687.8 L694.7 694.8 L697.1 701.8 L699.5 708.7 L701.8 715.5 L704.2 722.2 L706.6 728.9 L709.0 735.5 L711.3 742.1 L713.7 748.6 L716.1 755.0 L718.5 761.4 L720.9 767.7 L723.3 773.9 L725.7 780.1 L728.1 786.2 L730.5 792.2 L732.9 798.2 L735.3 804.1 L737.7 810.0 L740.1 815.7 L742.5 821.5 L745.0 827.1 L747.4 832.7 L749.8 838.2 L752.2 843.7 L754.6 849.1 L757.0 854.4 L759.4 859.7 L761.8 864.8 L764.2 870.0 L766.6 875.0 L769.1 880.0 L771.5 885.0 L773.9 889.9 L776.3 894.7 L778.7 899.4 L781.1 904.1 L783.5 908.7 L785.9 913.2 L788.3 917.7 L790.7 922.1 L793.1 926.5 L795.5 930.8 L797.8 935.0 L800.2 939.1 L802.6 943.2 L805.0 947.3 L807.4 951.2 L809.8 955.1 L812.2 959.0 L814.6 962.7 L816.9 966.4 L819.3 970.1 L821.7 973.6 L824.1 977.1 L826.5 980.6 L828.8 984.0 L831.2 987.3 L833.6 990.5 L836.0 993.7 L838.3 996.8 L840.7 999.9 L843.1 1002.9 L845.5 1005.8 L847.8 1008.6 L850.2 1011.4 L852.6 1014.2 L855.0 1016.8 L857.4 1019.4 L859.7 1022.0 L862.1 1024.4 L864.5 1026.8 L866.9 1029.2 L869.3 1031.4 L871.7 1033.6 L874.1 1035.8 L876.5 1037.9 L878.9 1039.9 L881.3 1041.8 L883.7 1043.7 L886.1 1045.5 L888.5 1047.3 L891.0 1049.0 L893.4 1050.6 L895.8 1052.2 L898.3 1053.6 L900.7 1055.1 L903.2 1056.4 L905.7 1057.7 L908.1 1059.0 L910.6 1060.1 L913.1 1061.2 L915.6 1062.3 L918.1 1063.3 L920.6 1064.2 L923.1 1065.0 L925.7 1065.8 L928.2 1066.5 L930.8 1067.2 L933.4 1067.7 L935.9 1068.3 L938.5 1068.7 L941.1 1069.1 L943.8 1069.4 L946.4 1069.7 L949.1 1069.9 L951.7 1070.0 L954.4 1070.1 L956.8 1070.1 L958.9 1070.0 L961.0 1069.9 L963.1 1069.7 L965.2 1069.4 L967.3 1069.1 L969.5 1068.7 L971.6 1068.3 L973.8 1067.7 L976.0 1067.2 L978.2 1066.5 L980.4 1065.8 L982.6 1065.0 L984.9 1064.2 L987.1 1063.3 L989.4 1062.3 L991.7 1061.2 L994.0 1060.1 L996.3 1059.0 L998.6 1057.7 L1000.9 1056.4 L1003.3 1055.1 L1005.6 1053.6 L1008.0 1052.2 L1010.3 1050.6 L1012.7 1049.0 L1015.1 1047.3 L1017.5 1045.5 L1020.0 1043.7 L1022.4 1041.8 L1024.8 1039.9 L1027.3 1037.9 L1029.7 1035.8 L1032.2 1033.6 L1034.7 1031.4 L1037.2 1029.2 L1039.6 1026.8 L1042.1 1024.4 L1044.7 1022.0 L1047.2 1019.4 L1049.7 1016.8 L1052.2 1014.2 L1054.8 1011.4 L1057.3 1008.6 L1059.9 1005.8 L1062.5 1002.9 L1065.0 999.9 L1067.6 996.8 L1070.2 993.7 L1072.8 990.5 L1075.4 987.3 L1078.0 984.0 L1080.6 980.6 L1083.2 977.1 L1085.8 973.6 L1088.5 970.1 L1091.1 966.4 L1093.7 962.7 L1096.4 959.0 L1099.0 955.1 L1101.7 951.2 L1104.3 947.3 L1107.0 943.2 L1109.6 939.1 L1112.3 935.0 L1115.0 930.8 L1117.6 926.5 L1120.3 922.1 L1123.0 917.7 L1125.7 913.2 L1128.4 908.7 L1131.0 904.1 L1133.7 899.4 L1136.4 894.7 L1139.1 889.9 L1141.8 885.0 L1144.5 880.0 L1147.2 875.0 L1149.9 870.0 L1152.6 864.8 L1155.3 859.7 L1158.0 854.4 L1160.7 849.1 L1163.4 843.7 L1166.1 838.2 L1168.8 832.7 L1171.5 827.1 L1174.2 821.5 L1176.9 815.7 L1179.6 810.0 L1182.2 804.1 L1184.9 798.2 L1187.6 792.2 L1190.3 786.2 L1193.0 780.1 L1195.7 773.9 L1198.4 767.7 L1201.0 761.4 L1203.7 755.0 L1206.4 748.6 L1209.1 742.1 L1211.7 735.5 L1214.4 728.9 L1217.0 722.2 L1219.7 715.5 L1222.3 708.7 L1225.0 701.8 L1227.6 694.8 L1230.3 687.8 L1232.9 680.7 L1235.5 673.6 L1238.1 666.4 L1240.8 659.1 L1243.4 651.8 L1246.0 644.4 L1248.6 636.9 L1251.1 629.4 L1253.7 621.8 L1256.3 614.1 L1258.9 606.4 L1261.4 598.6 L1264.0 590.7 L1266.5 582.8 L1269.1 574.8 L1271.6 566.7 L1274.1 558.6 L1276.7 550.4 L1279.2 542.2 L1281.7 533.9 L1284.2 525.5"/>
<path class="c" stroke="#055e05" d="M841.0 525.5 L843.5 533.9 L846.0 542.2 L848.5 550.4 L851.1 558.6 L853.6 566.7 L856.1 574.8 L858.6 582.8 L861.1 590.7 L863.5 598.6 L866.0 606.4 L868.5 614.1 L871.0 621.8 L873.5 629.4 L876.0 636.9 L878.4 644.4 L880.9 651.8 L883.4 659.1 L885.8 666.4 L888.3 673.6 L890.8 680.7 L893.2 687.8 L895.7 694.8 L898.1 701.8 L900.6 708.7 L903.0 715.5 L905.5 722.2 L907.9 728.9 L910.3 735.5 L912.8 742.1 L915.2 748.6 L917.6 755.0 L920.0 761.4 L922.4 767.7 L924.9 773.9 L927.3 780.1 L929.7 786.2 L932.1 792.2 L934.5 798.2 L936.9 804.1 L939.3 810.0 L941.7 815.7 L944.1 821.5 L946.5 827.1 L948.8 832.7 L951.2 838.2 L953.6 843.7 L956.0 849.1 L958.4 854.4 L960.8 859.7 L963.1 864.8 L965.5 870.0 L967.9 875.0 L970.3 880.0 L972.6 885.0 L975.0 889.9 L977.4 894.7 L979.7 899.4 L982.1 904.1 L984.5 908.7 L986.8 913.2 L989.2 917.7 L991.6 922.1 L993.9 926.5 L996.3 930.8 L998.7 935.0 L1001.0 939.1 L1003.4 943.2 L1005.8 947.3 L1008.1 951.2 L1010.5 955.1 L1012.9 959.0 L1015.3 962.7 L1017.7 966.4 L1020.0 970.1 L1022.4 973.6 L1024.8 977.1 L1027.2 980.6 L1029.6 984.0 L1032.0 987.3 L1034.4 990.5 L1036.8 993.7 L1039.2 996.8 L1041.6 999.9 L1044.0 1002.9 L1046.4 1005.8 L1048.9 1008.6 L1051.3 1011.4 L1053.7 1014.2 L1056.2 1016.8 L1058.6 1019.4 L1061.1 1022.0 L1063.5 1024.4 L1066.0 1026.8 L1068.5 1029.2 L1071.0 1031.4 L1073.5 1033.6 L1076.0 1035.8 L1078.5 1037.9 L1081.0 1039.9 L1083.5 1041.8 L1086.1 1043.7 L1088.6 1045.5 L1091.2 1047.3 L1093.7 1049.0 L1096.3 1050.6 L1098.9 1052.2 L1101.5 1053.6 L1104.1 1055.1 L1106.7 1056.4 L1109.4 1057.7 L1112.0 1059.0 L1114.7 1060.1 L1117.4 1061.2 L1120.1 1062.3 L1122.8 1063.3 L1125.5 1064.2 L1128.2 1065.0 L1131.0 1065.8 L1133.8 1066.5 L1136.5 1067.2 L1139.3 1067.7 L1142.2 1068.3 L1145.0 1068.7 L1147.9 1069.1 L1150.7 1069.4 L1153.6 1069.7 L1156.5 1069.9 L1159.5 1070.0 L1162.4 1070.1 L1165.2 1070.1 L1167.6 1070.0 L1170.1 1069.9 L1172.6 1069.7 L1175.0 1069.4 L1177.5 1069.1 L1179.9 1068.7 L1182.4 1068.3 L1184.8 1067.7 L1187.2 1067.2 L1189.6 1066.5 L1192.1 1065.8 L1194.5 1065.0 L1196.9 1064.2 L1199.3 1063.3 L1201.7 1062.3 L1204.1 1061.2 L1206.5 1060.1 L1208.9 1059.0 L1211.3 1057.7 L1213.7 1056.4 L1216.1 1055.1 L1218.6 1053.6 L1221.0 1052.2 L1223.4 1050.6 L1225.8 1049.0 L1228.2 1047.3 L1230.6 1045.5 L1233.1 1043.7 L1235.5 1041.8 L1237.9 1039.9 L1240.3 1037.9 L1242.8 1035.8 L1245.2 1033.6 L1247.7 1031.4 L1250.1 1029.2 L1252.6 1026.8 L1255.0 1024.4 L1257.5 1022.0 L1260.0 1019.4 L1262.5 1016.8 L1264.9 1014.2 L1267.4 1011.4 L1269.9 1008.6 L1272.4 1005.8 L1275.0 1002.9 L1277.5 999.9 L1280.0 996.8 L1282.5 993.7 L1285.1 990.5 L1287.6 987.3 L1290.2 984.0 L1292.7 980.6 L1295.3 977.1 L1297.9 973.6 L1300.4 970.1 L1303.0 966.4 L1305.6 962.7 L1308.2 959.0 L1310.8 955.1 L1313.4 951.2 L1316.1 947.3 L1318.7 943.2 L1321.3 939.1 L1324.0 935.0 L1326.6 930.8 L1329.3 926.5 L1331.9 922.1 L1334.6 917.7 L1337.2 913.2 L1339.9 908.7 L1342.6 904.1 L1345.3 899.4 L1348.0 894.7 L1350.7 889.9 L1353.4 885.0 L1356.1 880.0 L1358.8 875.0 L1361.5 870.0 L1364.2 864.8 L1366.9 859.7 L1369.6 854.4 L1372.3 849.1 L1375.1 843.7 L1377.8 838.2 L1380.5 832.7 L1383.2 827.1 L1385.9 821.5 L1388.7 815.7 L1391.4 810.0 L1394.1 804.1 L1396.8 798.2 L1399.5 792.2 L1402.3 786.2 L1405.0 780.1 L1407.7 773.9 L1410.4 767.7 L1413.1 761.4 L1415.8 755.0 L1418.5 748.6 L1421.2 742.1 L1423.8 735.5 L1426.5 728.9 L1429.2 722.2 L1431.8 715.5 L1434.5 708.7 L1437.1 701.8 L1439.7 694.8 L1442.3 687.8 L1444.9 680.7 L1447.5 673.6 L1450.1 666.4 L1452.7 659.1 L1455.2 651.8 L1457.8 644.4 L1460.3 636.9 L1462.8 629.4 L1465.3 621.8 L1467.7 614.1 L1470.2 606.4 L1472.6 598.6 L1475.0 590.7 L1477.4 582.8 L1479.8 574.8 L1482.1 566.7 L1484.4 558.6 L1486.7 550.4 L1489.0 542.2 L1491.2 533.9 L1493.5 525.5"/>
</g>
<text class="l" transform="translate(282.70 665.50)" text-anchor="start">(b)</text>
</g>
<g id="panel-c">
<rect class="f" x="258.90" y="1128.60" width="1105.25" height="520.20"/>
<path class="k" d="M303.11 1128.60v15.0M303.11 1648.80v-15.0M391.53 1128.60v8.0M391.53 1648.80v-8.0M479.95 1128.60v15.0M479.95 1648.80v-15.0M568.37 1128.60v8.0M568.37 1648.80v-8.0M656.79 1128.60v15.0M656.79 1648.80v-15.0M745.21 1128.60v8.0M745.21 1648.80v-8.0M833.63 1128.60v15.0M833.63 1648.80v-15.0M922.05 1128.60v8.0M922.05 1648.80v-8.0M1010.47 1128.60v15.0M1010.47 1648.80v-15.0M1098.89 1128.60v8.0M1098.89 1648.80v-8.0M1187.31 1128.60v15.0M1187.31 1648.80v-15.0M1275.73 1128.60v8.0M1275.73 1648.80v-8.0M258.90 1616.29h15.0M1364.15 1616.29h-15.0M258.90 1535.01h8.0M1364.15 1535.01h-8.0M258.90 1453.72h15.0M1364.15 1453.72h-15.0M258.90 1372.44h8.0M1364.15 1372.44h-8.0M258.90 1291.16h15.0M1364.15 1291.16h-15.0M258.90 1209.88h8.0M1364.15 1209.88h-8.0"/>
<text class="t" transform="translate(244.60 1635.19) scale(1 1.05)" text-anchor="end">0.00</text>
<g transform="translate(246.60 1472.62) scale(1 1.05)"><text class="t" text-anchor="end">0.0<tspan dx="2.0">1</tspan></text><rect x="-30.96" y="-5.83" width="12.07" height="7.23" fill="#fff"/><rect x="-13.41" y="-5.83" width="11.58" height="7.23" fill="#fff"/></g>
<text class="t" transform="translate(244.60 1310.06) scale(1 1.05)" text-anchor="end">0.02</text>
<g clip-path="url(#cpc)">
<path class="c" stroke="#92bb4a" d="M645.1 1071.7 L647.2 1080.1 L649.4 1088.4 L651.5 1096.6 L653.7 1104.8 L655.9 1112.9 L658.1 1121.0 L660.3 1129.0 L662.6 1136.9 L664.8 1144.8 L667.0 1152.6 L669.3 1160.3 L671.6 1168.0 L673.9 1175.6 L676.1 1183.1 L678.4 1190.6 L680.7 1198.0 L683.1 1205.3 L685.4 1212.6 L687.7 1219.8 L690.1 1226.9 L692.4 1234.0 L694.7 1241.0 L697.1 1248.0 L699.5 1254.9 L701.8 1261.7 L704.2 1268.4 L706.6 1275.1 L709.0 1281.7 L711.3 1288.3 L713.7 1294.8 L716.1 1301.2 L718.5 1307.6 L720.9 1313.9 L723.3 1320.1 L725.7 1326.3 L728.1 1332.4 L730.5 1338.4 L732.9 1344.4 L735.3 1350.3 L737.7 1356.2 L740.1 1361.9 L742.5 1367.7 L745.0 1373.3 L747.4 1378.9 L749.8 1384.4 L752.2 1389.9 L754.6 1395.3 L757.0 1400.6 L759.4 1405.9 L761.8 1411.0 L764.2 1416.2 L766.6 1421.2 L769.1 1426.2 L771.5 1431.2 L773.9 1436.1 L776.3 1440.9 L778.7 1445.6 L781.1 1450.3 L783.5 1454.9 L785.9 1459.4 L788.3 1463.9 L790.7 1468.3 L793.1 1472.7 L795.5 1477.0 L797.8 1481.2 L800.2 1485.3 L802.6 1489.4 L805.0 1493.5 L807.4 1497.4 L809.8 1501.3 L812.2 1505.2 L814.6 1508.9 L816.9 1512.6 L819.3 1516.3 L821.7 1519.8 L824.1 1523.3 L826.5 1526.8 L828.8 1530.2 L831.2 1533.5 L833.6 1536.7 L836.0 1539.9 L838.3 1543.0 L840.7 1546.1 L843.1 1549.1 L845.5 1552.0 L847.8 1554.8 L850.2 1557.6 L852.6 1560.4 L855.0 1563.0 L857.4 1565.6 L859.7 1568.2 L862.1 1570.6 L864.5 1573.0 L866.9 1575.4 L869.3 1577.6 L871.7 1579.8 L874.1 1582.0 L876.5 1584.1 L878.9 1586.1 L881.3 1588.0 L883.7 1589.9 L886.1 1591.7 L888.5 1593.5 L891.0 1595.2 L893.4 1596.8 L895.8 1598.4 L898.3 1599.8 L900.7 1601.3 L903.2 1602.6 L905.7 1603.9 L908.1 1605.2 L910.6 1606.3 L913.1 1607.4 L915.6 1608.5 L918.1 1609.5 L920.6 1610.4 L923.1 1611.2 L925.7 1612.0 L928.2 1612.7 L930.8 1613.4 L933.4 1613.9 L935.9 1614.5 L938.5 1614.9 L941.1 1615.3 L943.8 1615.6 L946.4 1615.9 L949.1 1616.1 L951.7 1616.2 L954.4 1616.3 L956.8 1616.3 L958.9 1616.2 L961.0 1616.1 L963.1 1615.9 L965.2 1615.6 L967.3 1615.3 L969.5 1614.9 L971.6 1614.5 L973.8 1613.9 L976.0 1613.4 L978.2 1612.7 L980.4 1612.0 L982.6 1611.2 L984.9 1610.4 L987.1 1609.5 L989.4 1608.5 L991.7 1607.4 L994.0 1606.3 L996.3 1605.2 L998.6 1603.9 L1000.9 1602.6 L1003.3 1601.3 L1005.6 1599.8 L1008.0 1598.4 L1010.3 1596.8 L1012.7 1595.2 L1015.1 1593.5 L1017.5 1591.7 L1020.0 1589.9 L1022.4 1588.0 L1024.8 1586.1 L1027.3 1584.1 L1029.7 1582.0 L1032.2 1579.8 L1034.7 1577.6 L1037.2 1575.4 L1039.6 1573.0 L1042.1 1570.6 L1044.7 1568.2 L1047.2 1565.6 L1049.7 1563.0 L1052.2 1560.4 L1054.8 1557.6 L1057.3 1554.8 L1059.9 1552.0 L1062.5 1549.1 L1065.0 1546.1 L1067.6 1543.0 L1070.2 1539.9 L1072.8 1536.7 L1075.4 1533.5 L1078.0 1530.2 L1080.6 1526.8 L1083.2 1523.3 L1085.8 1519.8 L1088.5 1516.3 L1091.1 1512.6 L1093.7 1508.9 L1096.4 1505.2 L1099.0 1501.3 L1101.7 1497.4 L1104.3 1493.5 L1107.0 1489.4 L1109.6 1485.3 L1112.3 1481.2 L1115.0 1477.0 L1117.6 1472.7 L1120.3 1468.3 L1123.0 1463.9 L1125.7 1459.4 L1128.4 1454.9 L1131.0 1450.3 L1133.7 1445.6 L1136.4 1440.9 L1139.1 1436.1 L1141.8 1431.2 L1144.5 1426.2 L1147.2 1421.2 L1149.9 1416.2 L1152.6 1411.0 L1155.3 1405.9 L1158.0 1400.6 L1160.7 1395.3 L1163.4 1389.9 L1166.1 1384.4 L1168.8 1378.9 L1171.5 1373.3 L1174.2 1367.7 L1176.9 1361.9 L1179.6 1356.2 L1182.2 1350.3 L1184.9 1344.4 L1187.6 1338.4 L1190.3 1332.4 L1193.0 1326.3 L1195.7 1320.1 L1198.4 1313.9 L1201.0 1307.6 L1203.7 1301.2 L1206.4 1294.8 L1209.1 1288.3 L1211.7 1281.7 L1214.4 1275.1 L1217.0 1268.4 L1219.7 1261.7 L1222.3 1254.9 L1225.0 1248.0 L1227.6 1241.0 L1230.3 1234.0 L1232.9 1226.9 L1235.5 1219.8 L1238.1 1212.6 L1240.8 1205.3 L1243.4 1198.0 L1246.0 1190.6 L1248.6 1183.1 L1251.1 1175.6 L1253.7 1168.0 L1256.3 1160.3 L1258.9 1152.6 L1261.4 1144.8 L1264.0 1136.9 L1266.5 1129.0 L1269.1 1121.0 L1271.6 1112.9 L1274.1 1104.8 L1276.7 1096.6 L1279.2 1088.4 L1281.7 1080.1 L1284.2 1071.7"/>
<path class="d" stroke="#92bb4a" stroke-dasharray="0.01 21.72" stroke-dashoffset="10.10" d="M610.5 1071.7 L612.0 1077.1 L613.5 1082.6 L615.0 1088.0 L616.5 1093.3 L618.0 1098.7 L619.4 1104.0 L620.9 1109.2 L622.4 1114.5 L623.9 1119.7 L625.4 1124.9 L626.9 1130.1 L628.4 1135.2 L629.9 1140.4 L631.4 1145.5 L632.9 1150.5 L634.4 1155.6 L635.9 1160.6 L637.4 1165.5 L638.9 1170.5 L640.4 1175.4 L641.9 1180.3 L643.4 1185.2 L644.9 1190.0 L646.4 1194.8 L647.9 1199.6 L649.4 1204.4 L650.9 1209.1 L652.4 1213.8 L653.9 1218.5 L655.4 1223.2 L656.9 1227.8 L658.4 1232.4 L659.9 1237.0 L661.4 1241.5 L662.9 1246.0 L664.4 1250.5 L665.9 1255.0 L667.4 1259.4 L668.9 1263.8 L670.4 1268.2 L671.9 1272.5 L673.4 1276.9 L674.9 1281.2 L676.4 1285.4 L677.9 1289.7 L679.4 1293.9 L680.9 1298.1 L682.4 1302.2 L683.9 1306.4 L685.4 1310.5 L686.9 1314.5 L688.4 1318.6 L689.9 1322.6 L691.4 1326.6 L692.9 1330.6 L694.4 1334.5 L695.9 1338.4 L697.4 1342.3 L698.9 1346.2 L700.4 1350.0 L701.9 1353.8 L703.4 1357.6 L704.9 1361.3 L706.4 1365.1 L707.9 1368.8 L709.4 1372.4 L710.9 1376.1 L712.5 1379.7 L714.0 1383.3 L715.5 1386.8 L717.0 1390.4 L718.5 1393.9 L720.0 1397.3 L721.5 1400.8 L723.0 1404.2 L724.5 1407.6 L726.0 1411.0 L727.5 1414.3 L729.0 1417.6 L730.6 1420.9 L732.1 1424.1 L733.6 1427.4 L735.1 1430.6 L736.6 1433.8 L738.1 1436.9 L739.6 1440.0 L741.1 1443.1 L742.6 1446.2 L744.2 1449.2 L745.7 1452.2 L747.2 1455.2 L748.7 1458.2 L750.2 1461.1 L751.7 1464.0 L753.2 1466.9 L754.7 1469.7 L756.3 1472.5 L757.8 1475.3 L759.3 1478.1 L760.8 1480.8 L762.3 1483.5 L763.8 1486.2 L765.3 1488.9 L766.9 1491.5 L768.4 1494.1 L769.9 1496.7 L771.4 1499.2 L772.9 1501.7 L774.4 1504.2 L776.0 1506.7 L777.5 1509.1 L779.0 1511.5 L780.5 1513.9 L782.0 1516.3 L783.5 1518.6 L785.1 1520.9 L786.6 1523.2 L788.1 1525.4 L789.6 1527.6 L791.1 1529.8 L792.7 1532.0 L794.2 1534.1 L795.7 1536.2 L797.2 1538.3 L798.7 1540.3 L800.3 1542.4 L801.8 1544.4 L803.3 1546.3 L804.8 1548.3 L806.3 1550.2 L807.9 1552.1 L809.4 1553.9 L810.9 1555.8 L812.4 1557.6 L814.0 1559.4 L815.5 1561.1 L817.0 1562.8 L818.5 1564.5 L820.1 1566.2 L821.6 1567.8 L823.1 1569.5 L824.6 1571.0 L826.2 1572.6 L827.7 1574.1 L829.2 1575.6 L830.7 1577.1 L832.3 1578.6 L833.8 1580.0 L835.3 1581.4 L836.8 1582.8 L838.4 1584.1 L839.9 1585.4 L841.4 1586.7 L843.0 1588.0 L844.5 1589.2 L846.0 1590.4 L847.5 1591.6 L849.1 1592.7 L850.6 1593.8 L852.1 1594.9 L853.7 1596.0 L855.2 1597.0 L856.7 1598.1 L858.3 1599.0 L859.8 1600.0 L861.3 1600.9 L862.8 1601.8 L864.4 1602.7 L865.9 1603.6 L867.4 1604.4 L869.0 1605.2 L870.5 1605.9 L872.0 1606.7 L873.6 1607.4 L875.1 1608.1 L876.7 1608.7 L878.2 1609.4 L879.7 1610.0 L881.3 1610.5 L882.8 1611.1 L884.3 1611.6 L885.9 1612.1 L887.4 1612.6 L888.9 1613.0 L890.5 1613.4 L892.0 1613.8 L893.6 1614.1 L895.1 1614.5 L896.6 1614.8 L898.2 1615.1 L899.7 1615.3 L901.3 1615.5 L902.8 1615.7 L904.3 1615.9 L905.9 1616.0 L907.4 1616.1 L909.0 1616.2 L910.5 1616.3 L912.0 1616.3 L913.6 1616.3 L915.2 1616.3 L916.8 1616.2 L918.4 1616.1 L920.0 1616.0 L921.6 1615.9 L923.2 1615.7 L924.8 1615.5 L926.4 1615.3 L928.0 1615.1 L929.6 1614.8 L931.2 1614.5 L932.8 1614.1 L934.4 1613.8 L936.0 1613.4 L937.6 1613.0 L939.2 1612.6 L940.8 1612.1 L942.4 1611.6 L944.0 1611.1 L945.6 1610.5 L947.2 1610.0 L948.8 1609.4 L950.4 1608.7 L951.9 1608.1 L953.5 1607.4 L955.1 1606.7 L956.7 1605.9 L958.3 1605.2 L959.9 1604.4 L961.5 1603.6 L963.1 1602.7 L964.7 1601.8 L966.3 1600.9 L967.9 1600.0 L969.5 1599.0 L971.1 1598.1 L972.7 1597.0 L974.3 1596.0 L975.9 1594.9 L977.5 1593.8 L979.1 1592.7 L980.7 1591.6 L982.3 1590.4 L983.9 1589.2 L985.5 1588.0 L987.1 1586.7 L988.7 1585.4 L990.3 1584.1 L991.9 1582.8 L993.5 1581.4 L995.1 1580.0 L996.7 1578.6 L998.3 1577.1 L999.9 1575.6 L1001.5 1574.1 L1003.1 1572.6 L1004.7 1571.0 L1006.3 1569.5 L1007.9 1567.8 L1009.5 1566.2 L1011.1 1564.5 L1012.7 1562.8 L1014.3 1561.1 L1015.9 1559.4 L1017.6 1557.6 L1019.2 1555.8 L1020.8 1553.9 L1022.4 1552.1 L1024.0 1550.2 L1025.6 1548.3 L1027.3 1546.3 L1028.9 1544.4 L1030.5 1542.4 L1032.1 1540.3 L1033.7 1538.3 L1035.4 1536.2 L1037.0 1534.1 L1038.6 1532.0 L1040.2 1529.8 L1041.9 1527.6 L1043.5 1525.4 L1045.1 1523.2 L1046.8 1520.9 L1048.4 1518.6 L1050.0 1516.3 L1051.7 1513.9 L1053.3 1511.5 L1055.0 1509.1 L1056.6 1506.7 L1058.2 1504.2 L1059.9 1501.7 L1061.5 1499.2 L1063.2 1496.7 L1064.8 1494.1 L1066.5 1491.5 L1068.1 1488.9 L1069.8 1486.2 L1071.4 1483.5 L1073.1 1480.8 L1074.8 1478.1 L1076.4 1475.3 L1078.1 1472.5 L1079.8 1469.7 L1081.4 1466.9 L1083.1 1464.0 L1084.8 1461.1 L1086.4 1458.2 L1088.1 1455.2 L1089.8 1452.2 L1091.5 1449.2 L1093.1 1446.2 L1094.8 1443.1 L1096.5 1440.0 L1098.2 1436.9 L1099.9 1433.8 L1101.6 1430.6 L1103.3 1427.4 L1105.0 1424.1 L1106.7 1420.9 L1108.4 1417.6 L1110.1 1414.3 L1111.8 1411.0 L1113.5 1407.6 L1115.2 1404.2 L1116.9 1400.8 L1118.6 1397.3 L1120.3 1393.9 L1122.1 1390.4 L1123.8 1386.8 L1125.5 1383.3 L1127.2 1379.7 L1129.0 1376.1 L1130.7 1372.4 L1132.4 1368.8 L1134.2 1365.1 L1135.9 1361.3 L1137.7 1357.6 L1139.4 1353.8 L1141.1 1350.0 L1142.9 1346.2 L1144.6 1342.3 L1146.4 1338.4 L1148.2 1334.5 L1149.9 1330.6 L1151.7 1326.6 L1153.5 1322.6 L1155.2 1318.6 L1157.0 1314.5 L1158.8 1310.5 L1160.6 1306.4 L1162.3 1302.2 L1164.1 1298.1 L1165.9 1293.9 L1167.7 1289.7 L1169.5 1285.4 L1171.3 1281.2 L1173.1 1276.9 L1174.9 1272.5 L1176.7 1268.2 L1178.5 1263.8 L1180.3 1259.4 L1182.2 1255.0 L1184.0 1250.5 L1185.8 1246.0 L1187.6 1241.5 L1189.5 1237.0 L1191.3 1232.4 L1193.1 1227.8 L1195.0 1223.2 L1196.8 1218.5 L1198.7 1213.8 L1200.5 1209.1 L1202.4 1204.4 L1204.2 1199.6 L1206.1 1194.8 L1208.0 1190.0 L1209.8 1185.2 L1211.7 1180.3 L1213.6 1175.4 L1215.5 1170.5 L1217.3 1165.5 L1219.2 1160.6 L1221.1 1155.6 L1223.0 1150.5 L1224.9 1145.5 L1226.8 1140.4 L1228.7 1135.2 L1230.6 1130.1 L1232.6 1124.9 L1234.5 1119.7 L1236.4 1114.5 L1238.3 1109.2 L1240.3 1104.0 L1242.2 1098.7 L1244.1 1093.3 L1246.1 1088.0 L1248.0 1082.6 L1250.0 1077.1 L1251.9 1071.7"/>
<path class="c" stroke="#055e05" d="M841.0 1071.7 L843.5 1080.1 L846.0 1088.4 L848.5 1096.6 L851.1 1104.8 L853.6 1112.9 L856.1 1121.0 L858.6 1129.0 L861.1 1136.9 L863.5 1144.8 L866.0 1152.6 L868.5 1160.3 L871.0 1168.0 L873.5 1175.6 L876.0 1183.1 L878.4 1190.6 L880.9 1198.0 L883.4 1205.3 L885.8 1212.6 L888.3 1219.8 L890.8 1226.9 L893.2 1234.0 L895.7 1241.0 L898.1 1248.0 L900.6 1254.9 L903.0 1261.7 L905.5 1268.4 L907.9 1275.1 L910.3 1281.7 L912.8 1288.3 L915.2 1294.8 L917.6 1301.2 L920.0 1307.6 L922.4 1313.9 L924.9 1320.1 L927.3 1326.3 L929.7 1332.4 L932.1 1338.4 L934.5 1344.4 L936.9 1350.3 L939.3 1356.2 L941.7 1361.9 L944.1 1367.7 L946.5 1373.3 L948.8 1378.9 L951.2 1384.4 L953.6 1389.9 L956.0 1395.3 L958.4 1400.6 L960.8 1405.9 L963.1 1411.0 L965.5 1416.2 L967.9 1421.2 L970.3 1426.2 L972.6 1431.2 L975.0 1436.1 L977.4 1440.9 L979.7 1445.6 L982.1 1450.3 L984.5 1454.9 L986.8 1459.4 L989.2 1463.9 L991.6 1468.3 L993.9 1472.7 L996.3 1477.0 L998.7 1481.2 L1001.0 1485.3 L1003.4 1489.4 L1005.8 1493.5 L1008.1 1497.4 L1010.5 1501.3 L1012.9 1505.2 L1015.3 1508.9 L1017.7 1512.6 L1020.0 1516.3 L1022.4 1519.8 L1024.8 1523.3 L1027.2 1526.8 L1029.6 1530.2 L1032.0 1533.5 L1034.4 1536.7 L1036.8 1539.9 L1039.2 1543.0 L1041.6 1546.1 L1044.0 1549.1 L1046.4 1552.0 L1048.9 1554.8 L1051.3 1557.6 L1053.7 1560.4 L1056.2 1563.0 L1058.6 1565.6 L1061.1 1568.2 L1063.5 1570.6 L1066.0 1573.0 L1068.5 1575.4 L1071.0 1577.6 L1073.5 1579.8 L1076.0 1582.0 L1078.5 1584.1 L1081.0 1586.1 L1083.5 1588.0 L1086.1 1589.9 L1088.6 1591.7 L1091.2 1593.5 L1093.7 1595.2 L1096.3 1596.8 L1098.9 1598.4 L1101.5 1599.8 L1104.1 1601.3 L1106.7 1602.6 L1109.4 1603.9 L1112.0 1605.2 L1114.7 1606.3 L1117.4 1607.4 L1120.1 1608.5 L1122.8 1609.5 L1125.5 1610.4 L1128.2 1611.2 L1131.0 1612.0 L1133.8 1612.7 L1136.5 1613.4 L1139.3 1613.9 L1142.2 1614.5 L1145.0 1614.9 L1147.9 1615.3 L1150.7 1615.6 L1153.6 1615.9 L1156.5 1616.1 L1159.5 1616.2 L1162.4 1616.3 L1165.2 1616.3 L1167.6 1616.2 L1170.1 1616.1 L1172.6 1615.9 L1175.0 1615.6 L1177.5 1615.3 L1179.9 1614.9 L1182.4 1614.5 L1184.8 1613.9 L1187.2 1613.4 L1189.6 1612.7 L1192.1 1612.0 L1194.5 1611.2 L1196.9 1610.4 L1199.3 1609.5 L1201.7 1608.5 L1204.1 1607.4 L1206.5 1606.3 L1208.9 1605.2 L1211.3 1603.9 L1213.7 1602.6 L1216.1 1601.3 L1218.6 1599.8 L1221.0 1598.4 L1223.4 1596.8 L1225.8 1595.2 L1228.2 1593.5 L1230.6 1591.7 L1233.1 1589.9 L1235.5 1588.0 L1237.9 1586.1 L1240.3 1584.1 L1242.8 1582.0 L1245.2 1579.8 L1247.7 1577.6 L1250.1 1575.4 L1252.6 1573.0 L1255.0 1570.6 L1257.5 1568.2 L1260.0 1565.6 L1262.5 1563.0 L1264.9 1560.4 L1267.4 1557.6 L1269.9 1554.8 L1272.4 1552.0 L1275.0 1549.1 L1277.5 1546.1 L1280.0 1543.0 L1282.5 1539.9 L1285.1 1536.7 L1287.6 1533.5 L1290.2 1530.2 L1292.7 1526.8 L1295.3 1523.3 L1297.9 1519.8 L1300.4 1516.3 L1303.0 1512.6 L1305.6 1508.9 L1308.2 1505.2 L1310.8 1501.3 L1313.4 1497.4 L1316.1 1493.5 L1318.7 1489.4 L1321.3 1485.3 L1324.0 1481.2 L1326.6 1477.0 L1329.3 1472.7 L1331.9 1468.3 L1334.6 1463.9 L1337.2 1459.4 L1339.9 1454.9 L1342.6 1450.3 L1345.3 1445.6 L1348.0 1440.9 L1350.7 1436.1 L1353.4 1431.2 L1356.1 1426.2 L1358.8 1421.2 L1361.5 1416.2 L1364.2 1411.0 L1366.9 1405.9 L1369.6 1400.6 L1372.3 1395.3 L1375.1 1389.9 L1377.8 1384.4 L1380.5 1378.9 L1383.2 1373.3 L1385.9 1367.7 L1388.7 1361.9 L1391.4 1356.2 L1394.1 1350.3 L1396.8 1344.4 L1399.5 1338.4 L1402.3 1332.4 L1405.0 1326.3 L1407.7 1320.1 L1410.4 1313.9 L1413.1 1307.6 L1415.8 1301.2 L1418.5 1294.8 L1421.2 1288.3 L1423.8 1281.7 L1426.5 1275.1 L1429.2 1268.4 L1431.8 1261.7 L1434.5 1254.9 L1437.1 1248.0 L1439.7 1241.0 L1442.3 1234.0 L1444.9 1226.9 L1447.5 1219.8 L1450.1 1212.6 L1452.7 1205.3 L1455.2 1198.0 L1457.8 1190.6 L1460.3 1183.1 L1462.8 1175.6 L1465.3 1168.0 L1467.7 1160.3 L1470.2 1152.6 L1472.6 1144.8 L1475.0 1136.9 L1477.4 1129.0 L1479.8 1121.0 L1482.1 1112.9 L1484.4 1104.8 L1486.7 1096.6 L1489.0 1088.4 L1491.2 1080.1 L1493.5 1071.7"/>
<path class="d" stroke="#055e05" stroke-dasharray="0.01 21.69" stroke-dashoffset="5.50" d="M726.1 1071.7 L727.6 1077.1 L729.1 1082.6 L730.7 1088.0 L732.2 1093.3 L733.8 1098.7 L735.3 1104.0 L736.9 1109.2 L738.4 1114.5 L739.9 1119.7 L741.5 1124.9 L743.0 1130.1 L744.6 1135.2 L746.1 1140.4 L747.6 1145.5 L749.2 1150.5 L750.7 1155.6 L752.3 1160.6 L753.8 1165.5 L755.4 1170.5 L756.9 1175.4 L758.4 1180.3 L760.0 1185.2 L761.5 1190.0 L763.1 1194.8 L764.6 1199.6 L766.1 1204.4 L767.7 1209.1 L769.2 1213.8 L770.8 1218.5 L772.3 1223.2 L773.9 1227.8 L775.4 1232.4 L776.9 1237.0 L778.5 1241.5 L780.0 1246.0 L781.6 1250.5 L783.1 1255.0 L784.7 1259.4 L786.2 1263.8 L787.7 1268.2 L789.3 1272.5 L790.8 1276.9 L792.4 1281.2 L793.9 1285.4 L795.5 1289.7 L797.0 1293.9 L798.6 1298.1 L800.1 1302.2 L801.6 1306.4 L803.2 1310.5 L804.7 1314.5 L806.3 1318.6 L807.8 1322.6 L809.4 1326.6 L810.9 1330.6 L812.5 1334.5 L814.0 1338.4 L815.5 1342.3 L817.1 1346.2 L818.6 1350.0 L820.2 1353.8 L821.7 1357.6 L823.3 1361.3 L824.8 1365.1 L826.4 1368.8 L827.9 1372.4 L829.4 1376.1 L831.0 1379.7 L832.5 1383.3 L834.1 1386.8 L835.6 1390.4 L837.2 1393.9 L838.7 1397.3 L840.3 1400.8 L841.8 1404.2 L843.4 1407.6 L844.9 1411.0 L846.5 1414.3 L848.0 1417.6 L849.5 1420.9 L851.1 1424.1 L852.6 1427.4 L854.2 1430.6 L855.7 1433.8 L857.3 1436.9 L858.8 1440.0 L860.4 1443.1 L861.9 1446.2 L863.5 1449.2 L865.0 1452.2 L866.6 1455.2 L868.1 1458.2 L869.7 1461.1 L871.2 1464.0 L872.8 1466.9 L874.3 1469.7 L875.8 1472.5 L877.4 1475.3 L878.9 1478.1 L880.5 1480.8 L882.0 1483.5 L883.6 1486.2 L885.1 1488.9 L886.7 1491.5 L888.2 1494.1 L889.8 1496.7 L891.3 1499.2 L892.9 1501.7 L894.4 1504.2 L896.0 1506.7 L897.5 1509.1 L899.1 1511.5 L900.6 1513.9 L902.2 1516.3 L903.7 1518.6 L905.3 1520.9 L906.8 1523.2 L908.4 1525.4 L909.9 1527.6 L911.5 1529.8 L913.0 1532.0 L914.6 1534.1 L916.1 1536.2 L917.7 1538.3 L919.2 1540.3 L920.8 1542.4 L922.3 1544.4 L923.9 1546.3 L925.4 1548.3 L927.0 1550.2 L928.5 1552.1 L930.1 1553.9 L931.7 1555.8 L933.2 1557.6 L934.8 1559.4 L936.3 1561.1 L937.9 1562.8 L939.4 1564.5 L941.0 1566.2 L942.5 1567.8 L944.1 1569.5 L945.6 1571.0 L947.2 1572.6 L948.7 1574.1 L950.3 1575.6 L951.8 1577.1 L953.4 1578.6 L954.9 1580.0 L956.5 1581.4 L958.1 1582.8 L959.6 1584.1 L961.2 1585.4 L962.7 1586.7 L964.3 1588.0 L965.8 1589.2 L967.4 1590.4 L968.9 1591.6 L970.5 1592.7 L972.1 1593.8 L973.6 1594.9 L975.2 1596.0 L976.7 1597.0 L978.3 1598.1 L979.8 1599.0 L981.4 1600.0 L982.9 1600.9 L984.5 1601.8 L986.1 1602.7 L987.6 1603.6 L989.2 1604.4 L990.7 1605.2 L992.3 1605.9 L993.8 1606.7 L995.4 1607.4 L997.0 1608.1 L998.5 1608.7 L1000.1 1609.4 L1001.6 1610.0 L1003.2 1610.5 L1004.7 1611.1 L1006.3 1611.6 L1007.9 1612.1 L1009.4 1612.6 L1011.0 1613.0 L1012.5 1613.4 L1014.1 1613.8 L1015.7 1614.1 L1017.2 1614.5 L1018.8 1614.8 L1020.3 1615.1 L1021.9 1615.3 L1023.5 1615.5 L1025.0 1615.7 L1026.6 1615.9 L1028.1 1616.0 L1029.7 1616.1 L1031.3 1616.2 L1032.8 1616.3 L1034.4 1616.3 L1036.0 1616.3 L1037.8 1616.3 L1039.5 1616.2 L1041.3 1616.1 L1043.0 1616.0 L1044.7 1615.9 L1046.4 1615.7 L1048.2 1615.5 L1049.9 1615.3 L1051.6 1615.1 L1053.3 1614.8 L1055.0 1614.5 L1056.8 1614.1 L1058.5 1613.8 L1060.2 1613.4 L1061.9 1613.0 L1063.6 1612.6 L1065.3 1612.1 L1067.0 1611.6 L1068.7 1611.1 L1070.4 1610.5 L1072.1 1610.0 L1073.8 1609.4 L1075.5 1608.7 L1077.2 1608.1 L1078.9 1607.4 L1080.5 1606.7 L1082.2 1605.9 L1083.9 1605.2 L1085.6 1604.4 L1087.3 1603.6 L1088.9 1602.7 L1090.6 1601.8 L1092.3 1600.9 L1094.0 1600.0 L1095.6 1599.0 L1097.3 1598.1 L1099.0 1597.0 L1100.7 1596.0 L1102.3 1594.9 L1104.0 1593.8 L1105.7 1592.7 L1107.3 1591.6 L1109.0 1590.4 L1110.6 1589.2 L1112.3 1588.0 L1114.0 1586.7 L1115.6 1585.4 L1117.3 1584.1 L1118.9 1582.8 L1120.6 1581.4 L1122.2 1580.0 L1123.9 1578.6 L1125.6 1577.1 L1127.2 1575.6 L1128.9 1574.1 L1130.5 1572.6 L1132.2 1571.0 L1133.8 1569.5 L1135.5 1567.8 L1137.1 1566.2 L1138.8 1564.5 L1140.4 1562.8 L1142.1 1561.1 L1143.7 1559.4 L1145.4 1557.6 L1147.0 1555.8 L1148.6 1553.9 L1150.3 1552.1 L1151.9 1550.2 L1153.6 1548.3 L1155.2 1546.3 L1156.9 1544.4 L1158.5 1542.4 L1160.2 1540.3 L1161.8 1538.3 L1163.5 1536.2 L1165.1 1534.1 L1166.8 1532.0 L1168.4 1529.8 L1170.1 1527.6 L1171.7 1525.4 L1173.4 1523.2 L1175.0 1520.9 L1176.7 1518.6 L1178.3 1516.3 L1180.0 1513.9 L1181.6 1511.5 L1183.3 1509.1 L1184.9 1506.7 L1186.6 1504.2 L1188.2 1501.7 L1189.9 1499.2 L1191.5 1496.7 L1193.2 1494.1 L1194.8 1491.5 L1196.5 1488.9 L1198.2 1486.2 L1199.8 1483.5 L1201.5 1480.8 L1203.1 1478.1 L1204.8 1475.3 L1206.5 1472.5 L1208.1 1469.7 L1209.8 1466.9 L1211.5 1464.0 L1213.1 1461.1 L1214.8 1458.2 L1216.5 1455.2 L1218.1 1452.2 L1219.8 1449.2 L1221.5 1446.2 L1223.2 1443.1 L1224.8 1440.0 L1226.5 1436.9 L1228.2 1433.8 L1229.9 1430.6 L1231.6 1427.4 L1233.2 1424.1 L1234.9 1420.9 L1236.6 1417.6 L1238.3 1414.3 L1240.0 1411.0 L1241.7 1407.6 L1243.4 1404.2 L1245.1 1400.8 L1246.8 1397.3 L1248.5 1393.9 L1250.2 1390.4 L1251.9 1386.8 L1253.6 1383.3 L1255.3 1379.7 L1257.0 1376.1 L1258.7 1372.4 L1260.5 1368.8 L1262.2 1365.1 L1263.9 1361.3 L1265.6 1357.6 L1267.4 1353.8 L1269.1 1350.0 L1270.8 1346.2 L1272.5 1342.3 L1274.3 1338.4 L1276.0 1334.5 L1277.8 1330.6 L1279.5 1326.6 L1281.3 1322.6 L1283.0 1318.6 L1284.8 1314.5 L1286.5 1310.5 L1288.3 1306.4 L1290.0 1302.2 L1291.8 1298.1 L1293.6 1293.9 L1295.3 1289.7 L1297.1 1285.4 L1298.9 1281.2 L1300.7 1276.9 L1302.4 1272.5 L1304.2 1268.2 L1306.0 1263.8 L1307.8 1259.4 L1309.6 1255.0 L1311.4 1250.5 L1313.2 1246.0 L1315.0 1241.5 L1316.8 1237.0 L1318.6 1232.4 L1320.4 1227.8 L1322.3 1223.2 L1324.1 1218.5 L1325.9 1213.8 L1327.7 1209.1 L1329.6 1204.4 L1331.4 1199.6 L1333.3 1194.8 L1335.1 1190.0 L1336.9 1185.2 L1338.8 1180.3 L1340.7 1175.4 L1342.5 1170.5 L1344.4 1165.5 L1346.2 1160.6 L1348.1 1155.6 L1350.0 1150.5 L1351.9 1145.5 L1353.8 1140.4 L1355.7 1135.2 L1357.5 1130.1 L1359.4 1124.9 L1361.3 1119.7 L1363.2 1114.5 L1365.2 1109.2 L1367.1 1104.0 L1369.0 1098.7 L1370.9 1093.3 L1372.8 1088.0 L1374.8 1082.6 L1376.7 1077.1 L1378.7 1071.7"/>
</g>
<text class="l" transform="translate(298.70 1211.40)" text-anchor="start">(c)</text>
</g>
<path class="g" stroke="#623a00" d="M1389.12 187.40H1527.67"/>
<text class="t" transform="translate(1544.50 209.00) scale(1 1.02)" text-anchor="start">Bare</text>
<path class="g" stroke="#bf5f00" d="M1389.12 263.00H1527.67"/>
<text class="t" transform="translate(1544.50 284.60) scale(1 1.05)" text-anchor="start">APTES</text>
<path class="g" stroke="#ff9212" d="M1389.12 338.60H1527.67"/>
<text class="t" transform="translate(1544.50 360.20) scale(1 1.05)" text-anchor="start">HMBA</text>
<path class="g" stroke="#ffda5c" d="M1389.12 414.20H1527.67"/>
<text class="t" transform="translate(1544.50 435.80) scale(1 1.02)" text-anchor="start">Boc-Gly</text>
<path class="g" stroke="#ffda5c" d="M1397.53 665.30H1535.17"/>
<text class="t" transform="translate(1552.80 686.90) scale(1 1.02)" text-anchor="start">Boc-Gly</text>
<path class="g" stroke="#e1f8c0" d="M1397.53 741.10H1535.17"/>
<text class="t" transform="translate(1552.80 762.70) scale(1 1.02)" text-anchor="start">Boc-Ala</text>
<path class="g" stroke="#d9e76c" d="M1397.53 816.90H1535.17"/>
<text class="t" transform="translate(1552.80 838.50) scale(1 1.02)" text-anchor="start">Boc-Ile</text>
<path class="g" stroke="#92bb4a" d="M1397.53 892.70H1535.17"/>
<text class="t" transform="translate(1552.80 914.30) scale(1 1.02)" text-anchor="start">Boc-Pro</text>
<path class="g" stroke="#055e05" d="M1397.53 968.50H1535.17"/>
<text class="t" transform="translate(1552.80 990.10) scale(1 1.02)" text-anchor="start">Boc-Phe</text>
<path class="g" stroke="#92bb4a" d="M1407.03 1267.70H1544.97"/>
<text class="t" transform="translate(1562.90 1289.30) scale(1 1.02)" text-anchor="start">Boc-Pro</text>
<path class="g" stroke="#92bb4a" stroke-dasharray="0.01 21.50" d="M1407.03 1343.40H1545.97"/>
<text class="t" transform="translate(1562.90 1365.00) scale(1 1.02)" text-anchor="start">Pro</text>
<path class="g" stroke="#055e05" d="M1407.03 1419.10H1544.97"/>
<text class="t" transform="translate(1562.90 1440.70) scale(1 1.02)" text-anchor="start">Boc-Phe</text>
<path class="g" stroke="#055e05" stroke-dasharray="0.01 21.50" d="M1407.03 1494.80H1545.97"/>
<text class="t" transform="translate(1562.90 1516.40) scale(1 1.02)" text-anchor="start">Phe</text>
<text class="t" transform="translate(306.31 1712.40) scale(1 1.05)" text-anchor="middle">70.0</text>
<text class="t" transform="translate(483.15 1712.40) scale(1 1.05)" text-anchor="middle">70.2</text>
<text class="t" transform="translate(659.99 1712.40) scale(1 1.05)" text-anchor="middle">70.4</text>
<text class="t" transform="translate(836.83 1712.40) scale(1 1.05)" text-anchor="middle">70.6</text>
<text class="t" transform="translate(1013.67 1712.40) scale(1 1.05)" text-anchor="middle">70.8</text>
<g transform="translate(1190.51 1712.40) scale(1 1.05)"><text class="t" text-anchor="middle">7<tspan dx="2.0">1</tspan><tspan dx="-2.0">.0</tspan></text><rect x="-20.33" y="-5.83" width="12.07" height="7.23" fill="#fff"/><rect x="-2.79" y="-5.83" width="11.58" height="7.23" fill="#fff"/></g>
<text class="l" transform="translate(766.00 1772.30) scale(1 0.985)" text-anchor="middle">Absolute dip angle (degrees)</text>
<text class="l" transform="translate(80.10 905.10) rotate(-90) scale(1 1.01)" text-anchor="middle" style="font-size:74.1px">SPR Reflection Intensity (R.U.)</text>
<g id="panel-d">
<rect class="f" x="258.90" y="1873.00" width="1105.25" height="520.20"/>
<path class="k" d="M327.98 1873.00v8.0M327.98 2393.20v-8.0M397.06 1873.00v15.0M397.06 2393.20v-15.0M466.13 1873.00v8.0M466.13 2393.20v-8.0M535.21 1873.00v15.0M535.21 2393.20v-15.0M604.29 1873.00v8.0M604.29 2393.20v-8.0M673.37 1873.00v15.0M673.37 2393.20v-15.0M742.45 1873.00v8.0M742.45 2393.20v-8.0M811.52 1873.00v15.0M811.52 2393.20v-15.0M880.60 1873.00v8.0M880.60 2393.20v-8.0M949.68 1873.00v15.0M949.68 2393.20v-15.0M1018.76 1873.00v8.0M1018.76 2393.20v-8.0M1087.84 1873.00v15.0M1087.84 2393.20v-15.0M1156.92 1873.00v8.0M1156.92 2393.20v-8.0M1225.99 1873.00v15.0M1225.99 2393.20v-15.0M1295.07 1873.00v8.0M1295.07 2393.20v-8.0M258.90 2289.16h8.0M1364.15 2289.16h-8.0M258.90 2185.12h15.0M1364.15 2185.12h-15.0M258.90 2081.08h8.0M1364.15 2081.08h-8.0M258.90 1977.04h15.0M1364.15 1977.04h-15.0"/>
<g clip-path="url(#cpd)">
<path d="M258.90 2393.55H314.30" fill="none" stroke="#e8e8e8" stroke-width="0.9"/>
<rect x="341.96" y="1975.58" width="110.80" height="417.72" fill="#808080" stroke="#e8e8e8" stroke-width="1.0"/>
<rect x="480.11" y="2333.27" width="110.80" height="60.03" fill="#808080" stroke="#e8e8e8" stroke-width="1.0"/>
<rect x="618.27" y="2333.27" width="110.80" height="60.03" fill="#808080" stroke="#e8e8e8" stroke-width="1.0"/>
<rect x="756.42" y="2333.27" width="110.80" height="60.03" fill="#808080" stroke="#e8e8e8" stroke-width="1.0"/>
<rect x="894.58" y="2160.98" width="110.80" height="232.32" fill="#808080" stroke="#e8e8e8" stroke-width="1.0"/>
<rect x="1032.74" y="2266.69" width="110.80" height="126.61" fill="#808080" stroke="#e8e8e8" stroke-width="1.0"/>
<rect x="1170.89" y="1886.94" width="110.80" height="506.36" fill="#808080" stroke="#e8e8e8" stroke-width="1.0"/>
</g>
<g transform="translate(253.40 2209.82) scale(1 1.05)"><text class="t" text-anchor="end">0.<tspan dx="2.0">1</tspan></text><rect x="-30.96" y="-5.83" width="12.07" height="7.23" fill="#fff"/><rect x="-13.41" y="-5.83" width="11.58" height="7.23" fill="#fff"/></g>
<text class="t" transform="translate(251.40 2001.74) scale(1 1.05)" text-anchor="end">0.2</text>
<text class="t" transform="translate(419.26 2403.20) rotate(-90) scale(1 1.05)" text-anchor="end">APTES</text>
<text class="t" transform="translate(557.41 2403.20) rotate(-90) scale(1 1.05)" text-anchor="end">HMBA</text>
<text class="t" transform="translate(695.57 2403.20) rotate(-90) scale(1 1.02)" text-anchor="end">Boc-Gly</text>
<text class="t" transform="translate(833.73 2403.20) rotate(-90) scale(1 1.02)" text-anchor="end">Boc-Ala</text>
<text class="t" transform="translate(971.88 2403.20) rotate(-90) scale(1 1.02)" text-anchor="end">Boc-Ile</text>
<text class="t" transform="translate(1110.04 2403.20) rotate(-90) scale(1 1.02)" text-anchor="end">Boc-Pro</text>
<text class="t" transform="translate(1248.19 2403.20) rotate(-90) scale(1 1.02)" text-anchor="end">Boc-Phe</text>
<text class="l" transform="translate(272.70 1950.40)" text-anchor="start">(d)</text>
<text class="l" transform="translate(127.00 2146.80) rotate(-90)" text-anchor="start"><tspan style="font-family:'Liberation Serif','DejaVu Serif',serif;font-size:72.5px">Δ</tspan><tspan dx="-1.55" style="font-size:70.5px">n</tspan></text>
</g>
</svg></body></html>
